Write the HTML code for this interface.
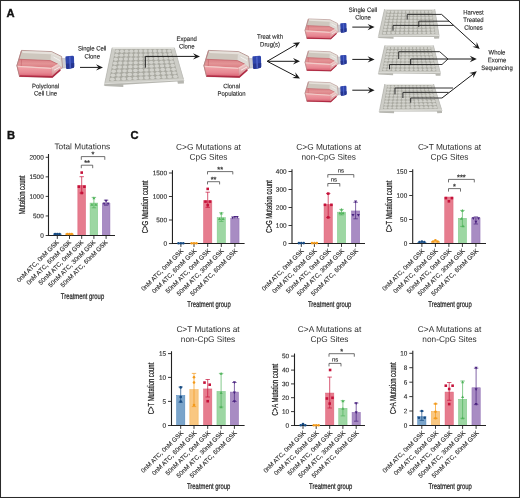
<!DOCTYPE html>
<html lang="en"><head><meta charset="utf-8"><title>Figure</title>
<style>
html,body{margin:0;padding:0;background:#fff;}
body{width:520px;height:498px;overflow:hidden;}
svg{display:block;font-family:"Liberation Sans", Arial, Helvetica, sans-serif;}
</style></head><body>
<svg width="520" height="498" viewBox="0 0 520 498">
<defs>
<filter id="b3" x="-5%" y="-5%" width="110%" height="110%"><feGaussianBlur stdDeviation="0.4"/></filter>
<linearGradient id="liq1" x1="0" y1="0" x2="0" y2="1"><stop offset="0" stop-color="#d97f84"/><stop offset="0.5" stop-color="#e39496"/><stop offset="1" stop-color="#da7a80"/></linearGradient>
<linearGradient id="liq2" x1="0" y1="0" x2="0" y2="1"><stop offset="0" stop-color="#f0a6aa"/><stop offset="0.6" stop-color="#e78792"/><stop offset="1" stop-color="#d65c6e"/></linearGradient>
<linearGradient id="liq3" x1="0" y1="0" x2="0.3" y2="1"><stop offset="0" stop-color="#ead2d0"/><stop offset="0.6" stop-color="#e2a8aa"/><stop offset="1" stop-color="#cf6a76"/></linearGradient>
</defs>
<rect x="0" y="0" width="520" height="498" fill="#fff"/>

<text x="6.6" y="17" font-size="11.2" font-weight="bold" fill="#111" stroke="#111" stroke-width="0.35">A</text>
<g transform="translate(16.00 49.50) scale(1.0000 1.0) translate(-16 -49.5)" filter="url(#b3)"><path d="M61.4 58.2L66.2 58.8L66.4 67.6L62 68.2Z" fill="#cdcdd2" stroke="#a9a9b2" stroke-width="0.5"/><path d="M21.5 50.4L51.6 51.6L61.6 56.5L62.4 67.5L52.3 77.2L19.6 76.5L16.9 65.6Z" fill="#cec7be" stroke="#b08a88" stroke-width="0.8"/><path d="M21.9 50.9L51.4 52.1L61.2 57L61 58.8L50.9 54.2L22.6 53Z" fill="#e6e1db"/><path d="M50.9 54.2L61 58.8L62 67.2L58 64.3L50.5 60.6Z" fill="#dfdbd6"/><path d="M53.5 57L60 60.6" stroke="#f4f2ef" stroke-width="1"/><path d="M19.3 59.3L50.5 60.6L58 64.3L51.5 67.9L17.1 65.8Z" fill="url(#liq1)"/><path d="M19.2 59.3L50.5 60.6L58 64.3" fill="none" stroke="#c4666c" stroke-width="0.8"/><path d="M21.6 59.5L21.2 66" fill="none" stroke="#c4666c" stroke-width="0.6"/><path d="M51.5 68L58 64.5L62.3 67.5L52.3 77.2Z" fill="url(#liq3)"/><path d="M54 70.2L60 67" stroke="#f6e9e8" stroke-width="1"/><path d="M17 66.1L51.5 68.1L52.3 77.2L19.6 76.5Z" fill="url(#liq2)"/><path d="M17 66.4L51.5 68.4L58 64.6" fill="none" stroke="#f3cbc9" stroke-width="1.4"/><path d="M51.5 68.2L52.3 77" fill="none" stroke="#d98a90" stroke-width="0.5"/><path d="M19.2 76L52.3 76.9L60.3 69.8" fill="none" stroke="#b02c44" stroke-width="1.6"/><path d="M21.5 50.6L17 65.6L19.6 76.4" fill="none" stroke="#b57c7e" stroke-width="0.8"/><path d="M66.4 56.3L72.6 55.8Q73.9 55.8 74 57L74.2 66.4Q74.2 67.7 73 67.9L67.4 68.9Q66.3 69 66.2 68L65.4 57.4Q65.4 56.4 66.4 56.3Z" fill="#2f44ac"/><path d="M65.9 63.8L74.2 63L74.2 66.4Q74.2 67.7 73 67.9L67.4 68.9Q66.3 69 66.2 68Z" fill="#253690"/><path d="M69 56.4L70.6 56.3L71 68L69.6 68.3Z" fill="#4c62c8"/></g>
<text transform="translate(45.60 88.20) rotate(0.03) scale(0.93 1)" font-size="6.4" text-anchor="middle" fill="#2e2e2e" stroke="#2e2e2e" stroke-width="0.15">Polyclonal</text>
<text transform="translate(45.60 95.60) rotate(0.03) scale(0.93 1)" font-size="6.4" text-anchor="middle" fill="#2e2e2e" stroke="#2e2e2e" stroke-width="0.15">Cell Line</text>
<text transform="translate(92.20 50.40) rotate(0.03) scale(0.93 1)" font-size="6.4" text-anchor="middle" fill="#2e2e2e" stroke="#2e2e2e" stroke-width="0.15">Single Cell</text>
<text transform="translate(92.20 58.40) rotate(0.03) scale(0.93 1)" font-size="6.4" text-anchor="middle" fill="#2e2e2e" stroke="#2e2e2e" stroke-width="0.15">Clone</text>
<path d="M80.00 67.40L98.80 67.40" fill="none" stroke="#1a1a1a" stroke-width="1.0"/>
<path d="M103.00 67.40L96.00 70.60L98.59 67.40L96.00 64.20Z" fill="#1a1a1a"/>
<g filter="url(#b3)"><path d="M112.1 47.8L174.4 47.8L183.9 81L183.9 83.60L177.90 83.80L177.40 81.60L123.30 84.70L123.30 86.90L104.3 86.10Z" fill="#b6b6b0"/><path d="M112.1 47.8L174.4 47.8L183.9 79.60L104.89999999999999 83.30Z" fill="#cdcdc7"/><path d="M115.25 49.21L171.00 49.08L178.70 78.22L109.02 81.33Z" fill="#a9a9a1"/><path d="M112.6 48.199999999999996L173.9 48.199999999999996" stroke="#efefec" stroke-width="0.9"/><ellipse cx="117.22" cy="51.21" rx="2.03" ry="1.71" fill="#d2d2cc"/><ellipse cx="121.94" cy="51.18" rx="2.03" ry="1.71" fill="#d2d2cc"/><ellipse cx="126.66" cy="51.15" rx="2.03" ry="1.71" fill="#d2d2cc"/><ellipse cx="131.38" cy="51.13" rx="2.03" ry="1.71" fill="#d2d2cc"/><ellipse cx="136.10" cy="51.10" rx="2.03" ry="1.71" fill="#d2d2cc"/><ellipse cx="140.81" cy="51.07" rx="2.03" ry="1.71" fill="#d2d2cc"/><ellipse cx="145.53" cy="51.05" rx="2.03" ry="1.71" fill="#d2d2cc"/><ellipse cx="150.25" cy="51.02" rx="2.03" ry="1.71" fill="#d2d2cc"/><ellipse cx="154.97" cy="50.99" rx="2.03" ry="1.71" fill="#d2d2cc"/><ellipse cx="159.69" cy="50.97" rx="2.03" ry="1.71" fill="#d2d2cc"/><ellipse cx="164.40" cy="50.94" rx="2.03" ry="1.71" fill="#d2d2cc"/><ellipse cx="169.12" cy="50.92" rx="2.03" ry="1.71" fill="#d2d2cc"/><ellipse cx="116.52" cy="55.21" rx="2.09" ry="1.71" fill="#d2d2cc"/><ellipse cx="121.38" cy="55.15" rx="2.09" ry="1.71" fill="#d2d2cc"/><ellipse cx="126.24" cy="55.09" rx="2.09" ry="1.71" fill="#d2d2cc"/><ellipse cx="131.11" cy="55.03" rx="2.09" ry="1.71" fill="#d2d2cc"/><ellipse cx="135.97" cy="54.98" rx="2.09" ry="1.71" fill="#d2d2cc"/><ellipse cx="140.83" cy="54.92" rx="2.09" ry="1.71" fill="#d2d2cc"/><ellipse cx="145.70" cy="54.86" rx="2.09" ry="1.71" fill="#d2d2cc"/><ellipse cx="150.56" cy="54.80" rx="2.09" ry="1.71" fill="#d2d2cc"/><ellipse cx="155.42" cy="54.75" rx="2.09" ry="1.71" fill="#d2d2cc"/><ellipse cx="160.29" cy="54.69" rx="2.09" ry="1.71" fill="#d2d2cc"/><ellipse cx="165.15" cy="54.63" rx="2.09" ry="1.71" fill="#d2d2cc"/><ellipse cx="170.01" cy="54.57" rx="2.09" ry="1.71" fill="#d2d2cc"/><ellipse cx="115.81" cy="59.21" rx="2.15" ry="1.71" fill="#d2d2cc"/><ellipse cx="120.82" cy="59.12" rx="2.15" ry="1.71" fill="#d2d2cc"/><ellipse cx="125.83" cy="59.03" rx="2.15" ry="1.71" fill="#d2d2cc"/><ellipse cx="130.83" cy="58.94" rx="2.15" ry="1.71" fill="#d2d2cc"/><ellipse cx="135.84" cy="58.85" rx="2.15" ry="1.71" fill="#d2d2cc"/><ellipse cx="140.85" cy="58.76" rx="2.15" ry="1.71" fill="#d2d2cc"/><ellipse cx="145.86" cy="58.67" rx="2.15" ry="1.71" fill="#d2d2cc"/><ellipse cx="150.87" cy="58.59" rx="2.15" ry="1.71" fill="#d2d2cc"/><ellipse cx="155.88" cy="58.50" rx="2.15" ry="1.71" fill="#d2d2cc"/><ellipse cx="160.89" cy="58.41" rx="2.15" ry="1.71" fill="#d2d2cc"/><ellipse cx="165.89" cy="58.32" rx="2.15" ry="1.71" fill="#d2d2cc"/><ellipse cx="170.90" cy="58.23" rx="2.15" ry="1.71" fill="#d2d2cc"/><ellipse cx="115.10" cy="63.20" rx="2.22" ry="1.71" fill="#d2d2cc"/><ellipse cx="120.26" cy="63.08" rx="2.22" ry="1.71" fill="#d2d2cc"/><ellipse cx="125.41" cy="62.97" rx="2.22" ry="1.71" fill="#d2d2cc"/><ellipse cx="130.56" cy="62.85" rx="2.22" ry="1.71" fill="#d2d2cc"/><ellipse cx="135.72" cy="62.73" rx="2.22" ry="1.71" fill="#d2d2cc"/><ellipse cx="140.87" cy="62.61" rx="2.22" ry="1.71" fill="#d2d2cc"/><ellipse cx="146.02" cy="62.49" rx="2.22" ry="1.71" fill="#d2d2cc"/><ellipse cx="151.18" cy="62.37" rx="2.22" ry="1.71" fill="#d2d2cc"/><ellipse cx="156.33" cy="62.25" rx="2.22" ry="1.71" fill="#d2d2cc"/><ellipse cx="161.49" cy="62.13" rx="2.22" ry="1.71" fill="#d2d2cc"/><ellipse cx="166.64" cy="62.01" rx="2.22" ry="1.71" fill="#d2d2cc"/><ellipse cx="171.79" cy="61.89" rx="2.22" ry="1.71" fill="#d2d2cc"/><ellipse cx="114.40" cy="67.20" rx="2.28" ry="1.71" fill="#d2d2cc"/><ellipse cx="119.70" cy="67.05" rx="2.28" ry="1.71" fill="#d2d2cc"/><ellipse cx="124.99" cy="66.90" rx="2.28" ry="1.71" fill="#d2d2cc"/><ellipse cx="130.29" cy="66.75" rx="2.28" ry="1.71" fill="#d2d2cc"/><ellipse cx="135.59" cy="66.60" rx="2.28" ry="1.71" fill="#d2d2cc"/><ellipse cx="140.89" cy="66.45" rx="2.28" ry="1.71" fill="#d2d2cc"/><ellipse cx="146.19" cy="66.30" rx="2.28" ry="1.71" fill="#d2d2cc"/><ellipse cx="151.49" cy="66.15" rx="2.28" ry="1.71" fill="#d2d2cc"/><ellipse cx="156.79" cy="66.00" rx="2.28" ry="1.71" fill="#d2d2cc"/><ellipse cx="162.09" cy="65.85" rx="2.28" ry="1.71" fill="#d2d2cc"/><ellipse cx="167.38" cy="65.70" rx="2.28" ry="1.71" fill="#d2d2cc"/><ellipse cx="172.68" cy="65.55" rx="2.28" ry="1.71" fill="#d2d2cc"/><ellipse cx="113.69" cy="71.20" rx="2.34" ry="1.71" fill="#d2d2cc"/><ellipse cx="119.13" cy="71.02" rx="2.34" ry="1.71" fill="#d2d2cc"/><ellipse cx="124.58" cy="70.84" rx="2.34" ry="1.71" fill="#d2d2cc"/><ellipse cx="130.02" cy="70.66" rx="2.34" ry="1.71" fill="#d2d2cc"/><ellipse cx="135.47" cy="70.48" rx="2.34" ry="1.71" fill="#d2d2cc"/><ellipse cx="140.91" cy="70.30" rx="2.34" ry="1.71" fill="#d2d2cc"/><ellipse cx="146.35" cy="70.11" rx="2.34" ry="1.71" fill="#d2d2cc"/><ellipse cx="151.80" cy="69.93" rx="2.34" ry="1.71" fill="#d2d2cc"/><ellipse cx="157.24" cy="69.75" rx="2.34" ry="1.71" fill="#d2d2cc"/><ellipse cx="162.68" cy="69.57" rx="2.34" ry="1.71" fill="#d2d2cc"/><ellipse cx="168.13" cy="69.39" rx="2.34" ry="1.71" fill="#d2d2cc"/><ellipse cx="173.57" cy="69.21" rx="2.34" ry="1.71" fill="#d2d2cc"/><ellipse cx="112.98" cy="75.20" rx="2.40" ry="1.71" fill="#d2d2cc"/><ellipse cx="118.57" cy="74.99" rx="2.40" ry="1.71" fill="#d2d2cc"/><ellipse cx="124.16" cy="74.78" rx="2.40" ry="1.71" fill="#d2d2cc"/><ellipse cx="129.75" cy="74.56" rx="2.40" ry="1.71" fill="#d2d2cc"/><ellipse cx="135.34" cy="74.35" rx="2.40" ry="1.71" fill="#d2d2cc"/><ellipse cx="140.93" cy="74.14" rx="2.40" ry="1.71" fill="#d2d2cc"/><ellipse cx="146.52" cy="73.93" rx="2.40" ry="1.71" fill="#d2d2cc"/><ellipse cx="152.11" cy="73.71" rx="2.40" ry="1.71" fill="#d2d2cc"/><ellipse cx="157.70" cy="73.50" rx="2.40" ry="1.71" fill="#d2d2cc"/><ellipse cx="163.28" cy="73.29" rx="2.40" ry="1.71" fill="#d2d2cc"/><ellipse cx="168.87" cy="73.08" rx="2.40" ry="1.71" fill="#d2d2cc"/><ellipse cx="174.46" cy="72.86" rx="2.40" ry="1.71" fill="#d2d2cc"/><ellipse cx="112.28" cy="79.20" rx="2.47" ry="1.71" fill="#d2d2cc"/><ellipse cx="118.01" cy="78.96" rx="2.47" ry="1.71" fill="#d2d2cc"/><ellipse cx="123.75" cy="78.71" rx="2.47" ry="1.71" fill="#d2d2cc"/><ellipse cx="129.48" cy="78.47" rx="2.47" ry="1.71" fill="#d2d2cc"/><ellipse cx="135.21" cy="78.23" rx="2.47" ry="1.71" fill="#d2d2cc"/><ellipse cx="140.95" cy="77.98" rx="2.47" ry="1.71" fill="#d2d2cc"/><ellipse cx="146.68" cy="77.74" rx="2.47" ry="1.71" fill="#d2d2cc"/><ellipse cx="152.42" cy="77.50" rx="2.47" ry="1.71" fill="#d2d2cc"/><ellipse cx="158.15" cy="77.25" rx="2.47" ry="1.71" fill="#d2d2cc"/><ellipse cx="163.88" cy="77.01" rx="2.47" ry="1.71" fill="#d2d2cc"/><ellipse cx="169.62" cy="76.77" rx="2.47" ry="1.71" fill="#d2d2cc"/><ellipse cx="175.35" cy="76.52" rx="2.47" ry="1.71" fill="#d2d2cc"/><path d="M112.1 47.8L104.3 85.3" stroke="#b4b4af" stroke-width="0.7"/><path d="M174.4 47.8L183.9 81" stroke="#bcbcb7" stroke-width="0.7"/><path d="M104.3 83.70L183.9 79.80" stroke="#eeeeea" stroke-width="0.7"/></g>
<path d="M145.3 67.7V56.4L195.80 56.40" fill="none" stroke="#1a1a1a" stroke-width="1.0"/>
<path d="M200.00 56.40L193.00 59.60L195.59 56.40L193.00 53.20Z" fill="#1a1a1a"/>
<text transform="translate(186.70 41.00) rotate(0.03) scale(0.93 1)" font-size="6.4" text-anchor="middle" fill="#2e2e2e" stroke="#2e2e2e" stroke-width="0.15">Expand</text>
<text transform="translate(186.70 48.60) rotate(0.03) scale(0.93 1)" font-size="6.4" text-anchor="middle" fill="#2e2e2e" stroke="#2e2e2e" stroke-width="0.15">Clone</text>
<g transform="translate(203.00 49.50) scale(1.0000 1.0) translate(-16 -49.5)" filter="url(#b3)"><path d="M61.4 58.2L66.2 58.8L66.4 67.6L62 68.2Z" fill="#cdcdd2" stroke="#a9a9b2" stroke-width="0.5"/><path d="M21.5 50.4L51.6 51.6L61.6 56.5L62.4 67.5L52.3 77.2L19.6 76.5L16.9 65.6Z" fill="#cec7be" stroke="#b08a88" stroke-width="0.8"/><path d="M21.9 50.9L51.4 52.1L61.2 57L61 58.8L50.9 54.2L22.6 53Z" fill="#e6e1db"/><path d="M50.9 54.2L61 58.8L62 67.2L58 64.3L50.5 60.6Z" fill="#dfdbd6"/><path d="M53.5 57L60 60.6" stroke="#f4f2ef" stroke-width="1"/><path d="M19.3 59.3L50.5 60.6L58 64.3L51.5 67.9L17.1 65.8Z" fill="url(#liq1)"/><path d="M19.2 59.3L50.5 60.6L58 64.3" fill="none" stroke="#c4666c" stroke-width="0.8"/><path d="M21.6 59.5L21.2 66" fill="none" stroke="#c4666c" stroke-width="0.6"/><path d="M51.5 68L58 64.5L62.3 67.5L52.3 77.2Z" fill="url(#liq3)"/><path d="M54 70.2L60 67" stroke="#f6e9e8" stroke-width="1"/><path d="M17 66.1L51.5 68.1L52.3 77.2L19.6 76.5Z" fill="url(#liq2)"/><path d="M17 66.4L51.5 68.4L58 64.6" fill="none" stroke="#f3cbc9" stroke-width="1.4"/><path d="M51.5 68.2L52.3 77" fill="none" stroke="#d98a90" stroke-width="0.5"/><path d="M19.2 76L52.3 76.9L60.3 69.8" fill="none" stroke="#b02c44" stroke-width="1.6"/><path d="M21.5 50.6L17 65.6L19.6 76.4" fill="none" stroke="#b57c7e" stroke-width="0.8"/><path d="M66.4 56.3L72.6 55.8Q73.9 55.8 74 57L74.2 66.4Q74.2 67.7 73 67.9L67.4 68.9Q66.3 69 66.2 68L65.4 57.4Q65.4 56.4 66.4 56.3Z" fill="#2f44ac"/><path d="M65.9 63.8L74.2 63L74.2 66.4Q74.2 67.7 73 67.9L67.4 68.9Q66.3 69 66.2 68Z" fill="#253690"/><path d="M69 56.4L70.6 56.3L71 68L69.6 68.3Z" fill="#4c62c8"/></g>
<text transform="translate(231.60 88.30) rotate(0.03) scale(0.93 1)" font-size="6.4" text-anchor="middle" fill="#2e2e2e" stroke="#2e2e2e" stroke-width="0.15">Clonal</text>
<text transform="translate(231.60 95.80) rotate(0.03) scale(0.93 1)" font-size="6.4" text-anchor="middle" fill="#2e2e2e" stroke="#2e2e2e" stroke-width="0.15">Population</text>
<text transform="translate(270.00 38.70) rotate(0.03) scale(0.93 1)" font-size="6.4" text-anchor="middle" fill="#2e2e2e" stroke="#2e2e2e" stroke-width="0.15">Treat with</text>
<text transform="translate(270.00 46.60) rotate(0.03) scale(0.93 1)" font-size="6.4" text-anchor="middle" fill="#2e2e2e" stroke="#2e2e2e" stroke-width="0.15">Drug(s)</text>
<path d="M267.20 61.30L296.37 44.31" fill="none" stroke="#1a1a1a" stroke-width="1.0"/>
<path d="M300.00 42.20L295.56 48.49L296.19 44.42L292.34 42.96Z" fill="#1a1a1a"/>
<path d="M267.20 61.30L295.80 61.30" fill="none" stroke="#1a1a1a" stroke-width="1.0"/>
<path d="M300.00 61.30L293.00 64.50L295.59 61.30L293.00 58.10Z" fill="#1a1a1a"/>
<path d="M267.20 61.30L296.28 76.46" fill="none" stroke="#1a1a1a" stroke-width="1.0"/>
<path d="M300.00 78.40L292.31 78.00L296.09 76.36L295.27 72.33Z" fill="#1a1a1a"/>
<g transform="translate(304.40 18.20) scale(0.7252 0.75) translate(-16 -49.5)" filter="url(#b3)"><path d="M61.4 58.2L66.2 58.8L66.4 67.6L62 68.2Z" fill="#cdcdd2" stroke="#a9a9b2" stroke-width="0.5"/><path d="M21.5 50.4L51.6 51.6L61.6 56.5L62.4 67.5L52.3 77.2L19.6 76.5L16.9 65.6Z" fill="#cec7be" stroke="#b08a88" stroke-width="0.8"/><path d="M21.9 50.9L51.4 52.1L61.2 57L61 58.8L50.9 54.2L22.6 53Z" fill="#e6e1db"/><path d="M50.9 54.2L61 58.8L62 67.2L58 64.3L50.5 60.6Z" fill="#dfdbd6"/><path d="M53.5 57L60 60.6" stroke="#f4f2ef" stroke-width="1"/><path d="M19.3 59.3L50.5 60.6L58 64.3L51.5 67.9L17.1 65.8Z" fill="url(#liq1)"/><path d="M19.2 59.3L50.5 60.6L58 64.3" fill="none" stroke="#c4666c" stroke-width="0.8"/><path d="M21.6 59.5L21.2 66" fill="none" stroke="#c4666c" stroke-width="0.6"/><path d="M51.5 68L58 64.5L62.3 67.5L52.3 77.2Z" fill="url(#liq3)"/><path d="M54 70.2L60 67" stroke="#f6e9e8" stroke-width="1"/><path d="M17 66.1L51.5 68.1L52.3 77.2L19.6 76.5Z" fill="url(#liq2)"/><path d="M17 66.4L51.5 68.4L58 64.6" fill="none" stroke="#f3cbc9" stroke-width="1.4"/><path d="M51.5 68.2L52.3 77" fill="none" stroke="#d98a90" stroke-width="0.5"/><path d="M19.2 76L52.3 76.9L60.3 69.8" fill="none" stroke="#b02c44" stroke-width="1.6"/><path d="M21.5 50.6L17 65.6L19.6 76.4" fill="none" stroke="#b57c7e" stroke-width="0.8"/><path d="M66.4 56.3L72.6 55.8Q73.9 55.8 74 57L74.2 66.4Q74.2 67.7 73 67.9L67.4 68.9Q66.3 69 66.2 68L65.4 57.4Q65.4 56.4 66.4 56.3Z" fill="#2f44ac"/><path d="M65.9 63.8L74.2 63L74.2 66.4Q74.2 67.7 73 67.9L67.4 68.9Q66.3 69 66.2 68Z" fill="#253690"/><path d="M69 56.4L70.6 56.3L71 68L69.6 68.3Z" fill="#4c62c8"/></g>
<g transform="translate(304.40 50.20) scale(0.7252 0.75) translate(-16 -49.5)" filter="url(#b3)"><path d="M61.4 58.2L66.2 58.8L66.4 67.6L62 68.2Z" fill="#cdcdd2" stroke="#a9a9b2" stroke-width="0.5"/><path d="M21.5 50.4L51.6 51.6L61.6 56.5L62.4 67.5L52.3 77.2L19.6 76.5L16.9 65.6Z" fill="#cec7be" stroke="#b08a88" stroke-width="0.8"/><path d="M21.9 50.9L51.4 52.1L61.2 57L61 58.8L50.9 54.2L22.6 53Z" fill="#e6e1db"/><path d="M50.9 54.2L61 58.8L62 67.2L58 64.3L50.5 60.6Z" fill="#dfdbd6"/><path d="M53.5 57L60 60.6" stroke="#f4f2ef" stroke-width="1"/><path d="M19.3 59.3L50.5 60.6L58 64.3L51.5 67.9L17.1 65.8Z" fill="url(#liq1)"/><path d="M19.2 59.3L50.5 60.6L58 64.3" fill="none" stroke="#c4666c" stroke-width="0.8"/><path d="M21.6 59.5L21.2 66" fill="none" stroke="#c4666c" stroke-width="0.6"/><path d="M51.5 68L58 64.5L62.3 67.5L52.3 77.2Z" fill="url(#liq3)"/><path d="M54 70.2L60 67" stroke="#f6e9e8" stroke-width="1"/><path d="M17 66.1L51.5 68.1L52.3 77.2L19.6 76.5Z" fill="url(#liq2)"/><path d="M17 66.4L51.5 68.4L58 64.6" fill="none" stroke="#f3cbc9" stroke-width="1.4"/><path d="M51.5 68.2L52.3 77" fill="none" stroke="#d98a90" stroke-width="0.5"/><path d="M19.2 76L52.3 76.9L60.3 69.8" fill="none" stroke="#b02c44" stroke-width="1.6"/><path d="M21.5 50.6L17 65.6L19.6 76.4" fill="none" stroke="#b57c7e" stroke-width="0.8"/><path d="M66.4 56.3L72.6 55.8Q73.9 55.8 74 57L74.2 66.4Q74.2 67.7 73 67.9L67.4 68.9Q66.3 69 66.2 68L65.4 57.4Q65.4 56.4 66.4 56.3Z" fill="#2f44ac"/><path d="M65.9 63.8L74.2 63L74.2 66.4Q74.2 67.7 73 67.9L67.4 68.9Q66.3 69 66.2 68Z" fill="#253690"/><path d="M69 56.4L70.6 56.3L71 68L69.6 68.3Z" fill="#4c62c8"/></g>
<g transform="translate(304.40 81.10) scale(0.7252 0.75) translate(-16 -49.5)" filter="url(#b3)"><path d="M61.4 58.2L66.2 58.8L66.4 67.6L62 68.2Z" fill="#cdcdd2" stroke="#a9a9b2" stroke-width="0.5"/><path d="M21.5 50.4L51.6 51.6L61.6 56.5L62.4 67.5L52.3 77.2L19.6 76.5L16.9 65.6Z" fill="#cec7be" stroke="#b08a88" stroke-width="0.8"/><path d="M21.9 50.9L51.4 52.1L61.2 57L61 58.8L50.9 54.2L22.6 53Z" fill="#e6e1db"/><path d="M50.9 54.2L61 58.8L62 67.2L58 64.3L50.5 60.6Z" fill="#dfdbd6"/><path d="M53.5 57L60 60.6" stroke="#f4f2ef" stroke-width="1"/><path d="M19.3 59.3L50.5 60.6L58 64.3L51.5 67.9L17.1 65.8Z" fill="url(#liq1)"/><path d="M19.2 59.3L50.5 60.6L58 64.3" fill="none" stroke="#c4666c" stroke-width="0.8"/><path d="M21.6 59.5L21.2 66" fill="none" stroke="#c4666c" stroke-width="0.6"/><path d="M51.5 68L58 64.5L62.3 67.5L52.3 77.2Z" fill="url(#liq3)"/><path d="M54 70.2L60 67" stroke="#f6e9e8" stroke-width="1"/><path d="M17 66.1L51.5 68.1L52.3 77.2L19.6 76.5Z" fill="url(#liq2)"/><path d="M17 66.4L51.5 68.4L58 64.6" fill="none" stroke="#f3cbc9" stroke-width="1.4"/><path d="M51.5 68.2L52.3 77" fill="none" stroke="#d98a90" stroke-width="0.5"/><path d="M19.2 76L52.3 76.9L60.3 69.8" fill="none" stroke="#b02c44" stroke-width="1.6"/><path d="M21.5 50.6L17 65.6L19.6 76.4" fill="none" stroke="#b57c7e" stroke-width="0.8"/><path d="M66.4 56.3L72.6 55.8Q73.9 55.8 74 57L74.2 66.4Q74.2 67.7 73 67.9L67.4 68.9Q66.3 69 66.2 68L65.4 57.4Q65.4 56.4 66.4 56.3Z" fill="#2f44ac"/><path d="M65.9 63.8L74.2 63L74.2 66.4Q74.2 67.7 73 67.9L67.4 68.9Q66.3 69 66.2 68Z" fill="#253690"/><path d="M69 56.4L70.6 56.3L71 68L69.6 68.3Z" fill="#4c62c8"/></g>
<path d="M352.30 27.10L370.40 27.10" fill="none" stroke="#1a1a1a" stroke-width="1.0"/>
<path d="M374.60 27.10L367.60 30.30L370.19 27.10L367.60 23.90Z" fill="#1a1a1a"/>
<path d="M352.30 59.40L370.40 59.40" fill="none" stroke="#1a1a1a" stroke-width="1.0"/>
<path d="M374.60 59.40L367.60 62.60L370.19 59.40L367.60 56.20Z" fill="#1a1a1a"/>
<path d="M352.30 90.20L370.40 90.20" fill="none" stroke="#1a1a1a" stroke-width="1.0"/>
<path d="M374.60 90.20L367.60 93.40L370.19 90.20L367.60 87.00Z" fill="#1a1a1a"/>
<text transform="translate(363.00 12.00) rotate(0.03) scale(0.93 1)" font-size="6.4" text-anchor="middle" fill="#2e2e2e" stroke="#2e2e2e" stroke-width="0.15">Single Cell</text>
<text transform="translate(363.00 19.50) rotate(0.03) scale(0.93 1)" font-size="6.4" text-anchor="middle" fill="#2e2e2e" stroke="#2e2e2e" stroke-width="0.15">Clone</text>
<g filter="url(#b3)"><path d="M384.5 9.2L434.8 9.2L439.2 36.5L439.2 38.60L434.36 38.76L433.95 36.98L393.54 36.92L393.54 38.69L378.2 38.05Z" fill="#b6b6b0"/><path d="M384.5 9.2L434.8 9.2L439.2 35.37L378.8 35.79Z" fill="#cdcdc7"/><path d="M387.04 10.26L431.93 10.25L435.35 34.08L381.84 34.43Z" fill="#a9a9a1"/><path d="M385.0 9.6L434.3 9.6" stroke="#efefec" stroke-width="0.9"/><ellipse cx="388.61" cy="11.77" rx="1.63" ry="1.28" fill="#d2d2cc"/><ellipse cx="392.39" cy="11.77" rx="1.63" ry="1.28" fill="#d2d2cc"/><ellipse cx="396.18" cy="11.77" rx="1.63" ry="1.28" fill="#d2d2cc"/><ellipse cx="399.96" cy="11.76" rx="1.63" ry="1.28" fill="#d2d2cc"/><ellipse cx="403.75" cy="11.76" rx="1.63" ry="1.28" fill="#d2d2cc"/><ellipse cx="407.54" cy="11.76" rx="1.63" ry="1.28" fill="#d2d2cc"/><ellipse cx="411.32" cy="11.75" rx="1.63" ry="1.28" fill="#d2d2cc"/><ellipse cx="415.11" cy="11.75" rx="1.63" ry="1.28" fill="#d2d2cc"/><ellipse cx="418.89" cy="11.75" rx="1.63" ry="1.28" fill="#d2d2cc"/><ellipse cx="422.68" cy="11.75" rx="1.63" ry="1.28" fill="#d2d2cc"/><ellipse cx="426.47" cy="11.74" rx="1.63" ry="1.28" fill="#d2d2cc"/><ellipse cx="430.25" cy="11.74" rx="1.63" ry="1.28" fill="#d2d2cc"/><ellipse cx="388.00" cy="14.79" rx="1.67" ry="1.28" fill="#d2d2cc"/><ellipse cx="391.88" cy="14.79" rx="1.67" ry="1.28" fill="#d2d2cc"/><ellipse cx="395.75" cy="14.78" rx="1.67" ry="1.28" fill="#d2d2cc"/><ellipse cx="399.63" cy="14.77" rx="1.67" ry="1.28" fill="#d2d2cc"/><ellipse cx="403.50" cy="14.77" rx="1.67" ry="1.28" fill="#d2d2cc"/><ellipse cx="407.38" cy="14.76" rx="1.67" ry="1.28" fill="#d2d2cc"/><ellipse cx="411.26" cy="14.75" rx="1.67" ry="1.28" fill="#d2d2cc"/><ellipse cx="415.13" cy="14.75" rx="1.67" ry="1.28" fill="#d2d2cc"/><ellipse cx="419.01" cy="14.74" rx="1.67" ry="1.28" fill="#d2d2cc"/><ellipse cx="422.88" cy="14.73" rx="1.67" ry="1.28" fill="#d2d2cc"/><ellipse cx="426.76" cy="14.73" rx="1.67" ry="1.28" fill="#d2d2cc"/><ellipse cx="430.64" cy="14.72" rx="1.67" ry="1.28" fill="#d2d2cc"/><ellipse cx="387.40" cy="17.81" rx="1.71" ry="1.28" fill="#d2d2cc"/><ellipse cx="391.36" cy="17.80" rx="1.71" ry="1.28" fill="#d2d2cc"/><ellipse cx="395.33" cy="17.79" rx="1.71" ry="1.28" fill="#d2d2cc"/><ellipse cx="399.29" cy="17.78" rx="1.71" ry="1.28" fill="#d2d2cc"/><ellipse cx="403.26" cy="17.77" rx="1.71" ry="1.28" fill="#d2d2cc"/><ellipse cx="407.22" cy="17.76" rx="1.71" ry="1.28" fill="#d2d2cc"/><ellipse cx="411.19" cy="17.75" rx="1.71" ry="1.28" fill="#d2d2cc"/><ellipse cx="415.16" cy="17.74" rx="1.71" ry="1.28" fill="#d2d2cc"/><ellipse cx="419.12" cy="17.73" rx="1.71" ry="1.28" fill="#d2d2cc"/><ellipse cx="423.09" cy="17.72" rx="1.71" ry="1.28" fill="#d2d2cc"/><ellipse cx="427.05" cy="17.71" rx="1.71" ry="1.28" fill="#d2d2cc"/><ellipse cx="431.02" cy="17.70" rx="1.71" ry="1.28" fill="#d2d2cc"/><ellipse cx="386.79" cy="20.83" rx="1.74" ry="1.28" fill="#d2d2cc"/><ellipse cx="390.85" cy="20.82" rx="1.74" ry="1.28" fill="#d2d2cc"/><ellipse cx="394.90" cy="20.80" rx="1.74" ry="1.28" fill="#d2d2cc"/><ellipse cx="398.96" cy="20.79" rx="1.74" ry="1.28" fill="#d2d2cc"/><ellipse cx="403.01" cy="20.78" rx="1.74" ry="1.28" fill="#d2d2cc"/><ellipse cx="407.07" cy="20.76" rx="1.74" ry="1.28" fill="#d2d2cc"/><ellipse cx="411.12" cy="20.75" rx="1.74" ry="1.28" fill="#d2d2cc"/><ellipse cx="415.18" cy="20.74" rx="1.74" ry="1.28" fill="#d2d2cc"/><ellipse cx="419.23" cy="20.72" rx="1.74" ry="1.28" fill="#d2d2cc"/><ellipse cx="423.29" cy="20.71" rx="1.74" ry="1.28" fill="#d2d2cc"/><ellipse cx="427.35" cy="20.70" rx="1.74" ry="1.28" fill="#d2d2cc"/><ellipse cx="431.40" cy="20.68" rx="1.74" ry="1.28" fill="#d2d2cc"/><ellipse cx="386.19" cy="23.85" rx="1.78" ry="1.28" fill="#d2d2cc"/><ellipse cx="390.33" cy="23.83" rx="1.78" ry="1.28" fill="#d2d2cc"/><ellipse cx="394.48" cy="23.82" rx="1.78" ry="1.28" fill="#d2d2cc"/><ellipse cx="398.62" cy="23.80" rx="1.78" ry="1.28" fill="#d2d2cc"/><ellipse cx="402.77" cy="23.78" rx="1.78" ry="1.28" fill="#d2d2cc"/><ellipse cx="406.91" cy="23.77" rx="1.78" ry="1.28" fill="#d2d2cc"/><ellipse cx="411.06" cy="23.75" rx="1.78" ry="1.28" fill="#d2d2cc"/><ellipse cx="415.20" cy="23.73" rx="1.78" ry="1.28" fill="#d2d2cc"/><ellipse cx="419.35" cy="23.72" rx="1.78" ry="1.28" fill="#d2d2cc"/><ellipse cx="423.49" cy="23.70" rx="1.78" ry="1.28" fill="#d2d2cc"/><ellipse cx="427.64" cy="23.68" rx="1.78" ry="1.28" fill="#d2d2cc"/><ellipse cx="431.78" cy="23.66" rx="1.78" ry="1.28" fill="#d2d2cc"/><ellipse cx="385.58" cy="26.87" rx="1.82" ry="1.28" fill="#d2d2cc"/><ellipse cx="389.82" cy="26.85" rx="1.82" ry="1.28" fill="#d2d2cc"/><ellipse cx="394.05" cy="26.83" rx="1.82" ry="1.28" fill="#d2d2cc"/><ellipse cx="398.29" cy="26.81" rx="1.82" ry="1.28" fill="#d2d2cc"/><ellipse cx="402.52" cy="26.79" rx="1.82" ry="1.28" fill="#d2d2cc"/><ellipse cx="406.76" cy="26.77" rx="1.82" ry="1.28" fill="#d2d2cc"/><ellipse cx="410.99" cy="26.75" rx="1.82" ry="1.28" fill="#d2d2cc"/><ellipse cx="415.23" cy="26.73" rx="1.82" ry="1.28" fill="#d2d2cc"/><ellipse cx="419.46" cy="26.71" rx="1.82" ry="1.28" fill="#d2d2cc"/><ellipse cx="423.70" cy="26.69" rx="1.82" ry="1.28" fill="#d2d2cc"/><ellipse cx="427.93" cy="26.67" rx="1.82" ry="1.28" fill="#d2d2cc"/><ellipse cx="432.17" cy="26.65" rx="1.82" ry="1.28" fill="#d2d2cc"/><ellipse cx="384.98" cy="29.89" rx="1.86" ry="1.28" fill="#d2d2cc"/><ellipse cx="389.30" cy="29.87" rx="1.86" ry="1.28" fill="#d2d2cc"/><ellipse cx="393.63" cy="29.84" rx="1.86" ry="1.28" fill="#d2d2cc"/><ellipse cx="397.95" cy="29.82" rx="1.86" ry="1.28" fill="#d2d2cc"/><ellipse cx="402.28" cy="29.79" rx="1.86" ry="1.28" fill="#d2d2cc"/><ellipse cx="406.60" cy="29.77" rx="1.86" ry="1.28" fill="#d2d2cc"/><ellipse cx="410.93" cy="29.75" rx="1.86" ry="1.28" fill="#d2d2cc"/><ellipse cx="415.25" cy="29.72" rx="1.86" ry="1.28" fill="#d2d2cc"/><ellipse cx="419.57" cy="29.70" rx="1.86" ry="1.28" fill="#d2d2cc"/><ellipse cx="423.90" cy="29.68" rx="1.86" ry="1.28" fill="#d2d2cc"/><ellipse cx="428.22" cy="29.65" rx="1.86" ry="1.28" fill="#d2d2cc"/><ellipse cx="432.55" cy="29.63" rx="1.86" ry="1.28" fill="#d2d2cc"/><ellipse cx="384.37" cy="32.91" rx="1.90" ry="1.28" fill="#d2d2cc"/><ellipse cx="388.79" cy="32.88" rx="1.90" ry="1.28" fill="#d2d2cc"/><ellipse cx="393.20" cy="32.86" rx="1.90" ry="1.28" fill="#d2d2cc"/><ellipse cx="397.62" cy="32.83" rx="1.90" ry="1.28" fill="#d2d2cc"/><ellipse cx="402.03" cy="32.80" rx="1.90" ry="1.28" fill="#d2d2cc"/><ellipse cx="406.44" cy="32.77" rx="1.90" ry="1.28" fill="#d2d2cc"/><ellipse cx="410.86" cy="32.75" rx="1.90" ry="1.28" fill="#d2d2cc"/><ellipse cx="415.27" cy="32.72" rx="1.90" ry="1.28" fill="#d2d2cc"/><ellipse cx="419.69" cy="32.69" rx="1.90" ry="1.28" fill="#d2d2cc"/><ellipse cx="424.10" cy="32.66" rx="1.90" ry="1.28" fill="#d2d2cc"/><ellipse cx="428.52" cy="32.64" rx="1.90" ry="1.28" fill="#d2d2cc"/><ellipse cx="432.93" cy="32.61" rx="1.90" ry="1.28" fill="#d2d2cc"/><path d="M384.5 9.2L378.2 37.4" stroke="#b4b4af" stroke-width="0.7"/><path d="M434.8 9.2L439.2 36.5" stroke="#bcbcb7" stroke-width="0.7"/><path d="M378.2 36.11L439.2 35.53" stroke="#eeeeea" stroke-width="0.7"/></g>
<g filter="url(#b3)"><path d="M384.8 45.5L433.4 45.5L440.5 73.6L440.5 75.63L435.82 75.78L435.43 74.07L393.12 73.53L393.12 75.25L378.3 74.62Z" fill="#b6b6b0"/><path d="M384.8 45.5L433.4 45.5L440.5 72.51L378.90000000000003 72.44Z" fill="#cdcdc7"/><path d="M387.24 46.58L430.74 46.58L436.45 71.15L382.01 71.10Z" fill="#a9a9a1"/><path d="M385.3 45.9L432.9 45.9" stroke="#efefec" stroke-width="0.9"/><ellipse cx="388.76" cy="48.11" rx="1.58" ry="1.30" fill="#d2d2cc"/><ellipse cx="392.44" cy="48.11" rx="1.58" ry="1.30" fill="#d2d2cc"/><ellipse cx="396.12" cy="48.11" rx="1.58" ry="1.30" fill="#d2d2cc"/><ellipse cx="399.80" cy="48.11" rx="1.58" ry="1.30" fill="#d2d2cc"/><ellipse cx="403.48" cy="48.11" rx="1.58" ry="1.30" fill="#d2d2cc"/><ellipse cx="407.16" cy="48.11" rx="1.58" ry="1.30" fill="#d2d2cc"/><ellipse cx="410.84" cy="48.11" rx="1.58" ry="1.30" fill="#d2d2cc"/><ellipse cx="414.53" cy="48.11" rx="1.58" ry="1.30" fill="#d2d2cc"/><ellipse cx="418.21" cy="48.11" rx="1.58" ry="1.30" fill="#d2d2cc"/><ellipse cx="421.89" cy="48.11" rx="1.58" ry="1.30" fill="#d2d2cc"/><ellipse cx="425.57" cy="48.12" rx="1.58" ry="1.30" fill="#d2d2cc"/><ellipse cx="429.25" cy="48.12" rx="1.58" ry="1.30" fill="#d2d2cc"/><ellipse cx="388.16" cy="51.18" rx="1.63" ry="1.30" fill="#d2d2cc"/><ellipse cx="391.95" cy="51.18" rx="1.63" ry="1.30" fill="#d2d2cc"/><ellipse cx="395.75" cy="51.18" rx="1.63" ry="1.30" fill="#d2d2cc"/><ellipse cx="399.55" cy="51.18" rx="1.63" ry="1.30" fill="#d2d2cc"/><ellipse cx="403.34" cy="51.18" rx="1.63" ry="1.30" fill="#d2d2cc"/><ellipse cx="407.14" cy="51.18" rx="1.63" ry="1.30" fill="#d2d2cc"/><ellipse cx="410.93" cy="51.18" rx="1.63" ry="1.30" fill="#d2d2cc"/><ellipse cx="414.73" cy="51.18" rx="1.63" ry="1.30" fill="#d2d2cc"/><ellipse cx="418.52" cy="51.18" rx="1.63" ry="1.30" fill="#d2d2cc"/><ellipse cx="422.32" cy="51.19" rx="1.63" ry="1.30" fill="#d2d2cc"/><ellipse cx="426.11" cy="51.19" rx="1.63" ry="1.30" fill="#d2d2cc"/><ellipse cx="429.91" cy="51.19" rx="1.63" ry="1.30" fill="#d2d2cc"/><ellipse cx="387.56" cy="54.24" rx="1.68" ry="1.30" fill="#d2d2cc"/><ellipse cx="391.47" cy="54.24" rx="1.68" ry="1.30" fill="#d2d2cc"/><ellipse cx="395.38" cy="54.24" rx="1.68" ry="1.30" fill="#d2d2cc"/><ellipse cx="399.29" cy="54.25" rx="1.68" ry="1.30" fill="#d2d2cc"/><ellipse cx="403.20" cy="54.25" rx="1.68" ry="1.30" fill="#d2d2cc"/><ellipse cx="407.11" cy="54.25" rx="1.68" ry="1.30" fill="#d2d2cc"/><ellipse cx="411.02" cy="54.25" rx="1.68" ry="1.30" fill="#d2d2cc"/><ellipse cx="414.93" cy="54.25" rx="1.68" ry="1.30" fill="#d2d2cc"/><ellipse cx="418.84" cy="54.25" rx="1.68" ry="1.30" fill="#d2d2cc"/><ellipse cx="422.75" cy="54.26" rx="1.68" ry="1.30" fill="#d2d2cc"/><ellipse cx="426.66" cy="54.26" rx="1.68" ry="1.30" fill="#d2d2cc"/><ellipse cx="430.57" cy="54.26" rx="1.68" ry="1.30" fill="#d2d2cc"/><ellipse cx="386.96" cy="57.31" rx="1.73" ry="1.30" fill="#d2d2cc"/><ellipse cx="390.99" cy="57.31" rx="1.73" ry="1.30" fill="#d2d2cc"/><ellipse cx="395.01" cy="57.31" rx="1.73" ry="1.30" fill="#d2d2cc"/><ellipse cx="399.04" cy="57.31" rx="1.73" ry="1.30" fill="#d2d2cc"/><ellipse cx="403.06" cy="57.31" rx="1.73" ry="1.30" fill="#d2d2cc"/><ellipse cx="407.08" cy="57.32" rx="1.73" ry="1.30" fill="#d2d2cc"/><ellipse cx="411.11" cy="57.32" rx="1.73" ry="1.30" fill="#d2d2cc"/><ellipse cx="415.13" cy="57.32" rx="1.73" ry="1.30" fill="#d2d2cc"/><ellipse cx="419.15" cy="57.32" rx="1.73" ry="1.30" fill="#d2d2cc"/><ellipse cx="423.18" cy="57.33" rx="1.73" ry="1.30" fill="#d2d2cc"/><ellipse cx="427.20" cy="57.33" rx="1.73" ry="1.30" fill="#d2d2cc"/><ellipse cx="431.23" cy="57.33" rx="1.73" ry="1.30" fill="#d2d2cc"/><ellipse cx="386.37" cy="60.37" rx="1.78" ry="1.30" fill="#d2d2cc"/><ellipse cx="390.51" cy="60.37" rx="1.78" ry="1.30" fill="#d2d2cc"/><ellipse cx="394.64" cy="60.38" rx="1.78" ry="1.30" fill="#d2d2cc"/><ellipse cx="398.78" cy="60.38" rx="1.78" ry="1.30" fill="#d2d2cc"/><ellipse cx="402.92" cy="60.38" rx="1.78" ry="1.30" fill="#d2d2cc"/><ellipse cx="407.06" cy="60.38" rx="1.78" ry="1.30" fill="#d2d2cc"/><ellipse cx="411.19" cy="60.39" rx="1.78" ry="1.30" fill="#d2d2cc"/><ellipse cx="415.33" cy="60.39" rx="1.78" ry="1.30" fill="#d2d2cc"/><ellipse cx="419.47" cy="60.39" rx="1.78" ry="1.30" fill="#d2d2cc"/><ellipse cx="423.61" cy="60.40" rx="1.78" ry="1.30" fill="#d2d2cc"/><ellipse cx="427.75" cy="60.40" rx="1.78" ry="1.30" fill="#d2d2cc"/><ellipse cx="431.88" cy="60.40" rx="1.78" ry="1.30" fill="#d2d2cc"/><ellipse cx="385.77" cy="63.44" rx="1.83" ry="1.30" fill="#d2d2cc"/><ellipse cx="390.02" cy="63.44" rx="1.83" ry="1.30" fill="#d2d2cc"/><ellipse cx="394.27" cy="63.44" rx="1.83" ry="1.30" fill="#d2d2cc"/><ellipse cx="398.53" cy="63.45" rx="1.83" ry="1.30" fill="#d2d2cc"/><ellipse cx="402.78" cy="63.45" rx="1.83" ry="1.30" fill="#d2d2cc"/><ellipse cx="407.03" cy="63.45" rx="1.83" ry="1.30" fill="#d2d2cc"/><ellipse cx="411.28" cy="63.46" rx="1.83" ry="1.30" fill="#d2d2cc"/><ellipse cx="415.53" cy="63.46" rx="1.83" ry="1.30" fill="#d2d2cc"/><ellipse cx="419.79" cy="63.46" rx="1.83" ry="1.30" fill="#d2d2cc"/><ellipse cx="424.04" cy="63.47" rx="1.83" ry="1.30" fill="#d2d2cc"/><ellipse cx="428.29" cy="63.47" rx="1.83" ry="1.30" fill="#d2d2cc"/><ellipse cx="432.54" cy="63.47" rx="1.83" ry="1.30" fill="#d2d2cc"/><ellipse cx="385.17" cy="66.50" rx="1.88" ry="1.30" fill="#d2d2cc"/><ellipse cx="389.54" cy="66.50" rx="1.88" ry="1.30" fill="#d2d2cc"/><ellipse cx="393.90" cy="66.51" rx="1.88" ry="1.30" fill="#d2d2cc"/><ellipse cx="398.27" cy="66.51" rx="1.88" ry="1.30" fill="#d2d2cc"/><ellipse cx="402.64" cy="66.52" rx="1.88" ry="1.30" fill="#d2d2cc"/><ellipse cx="407.00" cy="66.52" rx="1.88" ry="1.30" fill="#d2d2cc"/><ellipse cx="411.37" cy="66.52" rx="1.88" ry="1.30" fill="#d2d2cc"/><ellipse cx="415.73" cy="66.53" rx="1.88" ry="1.30" fill="#d2d2cc"/><ellipse cx="420.10" cy="66.53" rx="1.88" ry="1.30" fill="#d2d2cc"/><ellipse cx="424.47" cy="66.54" rx="1.88" ry="1.30" fill="#d2d2cc"/><ellipse cx="428.83" cy="66.54" rx="1.88" ry="1.30" fill="#d2d2cc"/><ellipse cx="433.20" cy="66.54" rx="1.88" ry="1.30" fill="#d2d2cc"/><ellipse cx="384.58" cy="69.57" rx="1.93" ry="1.30" fill="#d2d2cc"/><ellipse cx="389.06" cy="69.57" rx="1.93" ry="1.30" fill="#d2d2cc"/><ellipse cx="393.54" cy="69.58" rx="1.93" ry="1.30" fill="#d2d2cc"/><ellipse cx="398.02" cy="69.58" rx="1.93" ry="1.30" fill="#d2d2cc"/><ellipse cx="402.50" cy="69.58" rx="1.93" ry="1.30" fill="#d2d2cc"/><ellipse cx="406.98" cy="69.59" rx="1.93" ry="1.30" fill="#d2d2cc"/><ellipse cx="411.46" cy="69.59" rx="1.93" ry="1.30" fill="#d2d2cc"/><ellipse cx="415.94" cy="69.60" rx="1.93" ry="1.30" fill="#d2d2cc"/><ellipse cx="420.42" cy="69.60" rx="1.93" ry="1.30" fill="#d2d2cc"/><ellipse cx="424.90" cy="69.61" rx="1.93" ry="1.30" fill="#d2d2cc"/><ellipse cx="429.38" cy="69.61" rx="1.93" ry="1.30" fill="#d2d2cc"/><ellipse cx="433.86" cy="69.62" rx="1.93" ry="1.30" fill="#d2d2cc"/><path d="M384.8 45.5L378.3 74" stroke="#b4b4af" stroke-width="0.7"/><path d="M433.4 45.5L440.5 73.6" stroke="#bcbcb7" stroke-width="0.7"/><path d="M378.3 72.75L440.5 72.66" stroke="#eeeeea" stroke-width="0.7"/></g>
<g filter="url(#b3)"><path d="M384.8 84L433.6 84L442 111L442 113.04L437.30 113.19L436.91 111.47L394.08 111.53L394.08 113.25L379.2 112.63Z" fill="#b6b6b0"/><path d="M384.8 84L433.6 84L442 109.90L379.8 110.43Z" fill="#cdcdc7"/><path d="M387.29 85.06L430.97 85.04L437.85 108.64L382.90 109.08Z" fill="#a9a9a1"/><path d="M385.3 84.4L433.1 84.4" stroke="#efefec" stroke-width="0.9"/><ellipse cx="388.87" cy="86.56" rx="1.59" ry="1.27" fill="#d2d2cc"/><ellipse cx="392.56" cy="86.55" rx="1.59" ry="1.27" fill="#d2d2cc"/><ellipse cx="396.26" cy="86.55" rx="1.59" ry="1.27" fill="#d2d2cc"/><ellipse cx="399.96" cy="86.54" rx="1.59" ry="1.27" fill="#d2d2cc"/><ellipse cx="403.66" cy="86.54" rx="1.59" ry="1.27" fill="#d2d2cc"/><ellipse cx="407.36" cy="86.54" rx="1.59" ry="1.27" fill="#d2d2cc"/><ellipse cx="411.06" cy="86.53" rx="1.59" ry="1.27" fill="#d2d2cc"/><ellipse cx="414.76" cy="86.53" rx="1.59" ry="1.27" fill="#d2d2cc"/><ellipse cx="418.46" cy="86.53" rx="1.59" ry="1.27" fill="#d2d2cc"/><ellipse cx="422.16" cy="86.52" rx="1.59" ry="1.27" fill="#d2d2cc"/><ellipse cx="425.86" cy="86.52" rx="1.59" ry="1.27" fill="#d2d2cc"/><ellipse cx="429.55" cy="86.51" rx="1.59" ry="1.27" fill="#d2d2cc"/><ellipse cx="388.37" cy="89.56" rx="1.64" ry="1.27" fill="#d2d2cc"/><ellipse cx="392.19" cy="89.55" rx="1.64" ry="1.27" fill="#d2d2cc"/><ellipse cx="396.01" cy="89.54" rx="1.64" ry="1.27" fill="#d2d2cc"/><ellipse cx="399.82" cy="89.53" rx="1.64" ry="1.27" fill="#d2d2cc"/><ellipse cx="403.64" cy="89.52" rx="1.64" ry="1.27" fill="#d2d2cc"/><ellipse cx="407.46" cy="89.52" rx="1.64" ry="1.27" fill="#d2d2cc"/><ellipse cx="411.27" cy="89.51" rx="1.64" ry="1.27" fill="#d2d2cc"/><ellipse cx="415.09" cy="89.50" rx="1.64" ry="1.27" fill="#d2d2cc"/><ellipse cx="418.91" cy="89.49" rx="1.64" ry="1.27" fill="#d2d2cc"/><ellipse cx="422.72" cy="89.48" rx="1.64" ry="1.27" fill="#d2d2cc"/><ellipse cx="426.54" cy="89.47" rx="1.64" ry="1.27" fill="#d2d2cc"/><ellipse cx="430.36" cy="89.47" rx="1.64" ry="1.27" fill="#d2d2cc"/><ellipse cx="387.88" cy="92.56" rx="1.69" ry="1.27" fill="#d2d2cc"/><ellipse cx="391.82" cy="92.55" rx="1.69" ry="1.27" fill="#d2d2cc"/><ellipse cx="395.75" cy="92.53" rx="1.69" ry="1.27" fill="#d2d2cc"/><ellipse cx="399.69" cy="92.52" rx="1.69" ry="1.27" fill="#d2d2cc"/><ellipse cx="403.62" cy="92.51" rx="1.69" ry="1.27" fill="#d2d2cc"/><ellipse cx="407.55" cy="92.50" rx="1.69" ry="1.27" fill="#d2d2cc"/><ellipse cx="411.49" cy="92.48" rx="1.69" ry="1.27" fill="#d2d2cc"/><ellipse cx="415.42" cy="92.47" rx="1.69" ry="1.27" fill="#d2d2cc"/><ellipse cx="419.36" cy="92.46" rx="1.69" ry="1.27" fill="#d2d2cc"/><ellipse cx="423.29" cy="92.44" rx="1.69" ry="1.27" fill="#d2d2cc"/><ellipse cx="427.22" cy="92.43" rx="1.69" ry="1.27" fill="#d2d2cc"/><ellipse cx="431.16" cy="92.42" rx="1.69" ry="1.27" fill="#d2d2cc"/><ellipse cx="387.39" cy="95.56" rx="1.74" ry="1.27" fill="#d2d2cc"/><ellipse cx="391.44" cy="95.54" rx="1.74" ry="1.27" fill="#d2d2cc"/><ellipse cx="395.50" cy="95.53" rx="1.74" ry="1.27" fill="#d2d2cc"/><ellipse cx="399.55" cy="95.51" rx="1.74" ry="1.27" fill="#d2d2cc"/><ellipse cx="403.60" cy="95.49" rx="1.74" ry="1.27" fill="#d2d2cc"/><ellipse cx="407.65" cy="95.47" rx="1.74" ry="1.27" fill="#d2d2cc"/><ellipse cx="411.70" cy="95.46" rx="1.74" ry="1.27" fill="#d2d2cc"/><ellipse cx="415.75" cy="95.44" rx="1.74" ry="1.27" fill="#d2d2cc"/><ellipse cx="419.80" cy="95.42" rx="1.74" ry="1.27" fill="#d2d2cc"/><ellipse cx="423.86" cy="95.41" rx="1.74" ry="1.27" fill="#d2d2cc"/><ellipse cx="427.91" cy="95.39" rx="1.74" ry="1.27" fill="#d2d2cc"/><ellipse cx="431.96" cy="95.37" rx="1.74" ry="1.27" fill="#d2d2cc"/><ellipse cx="386.90" cy="98.56" rx="1.79" ry="1.27" fill="#d2d2cc"/><ellipse cx="391.07" cy="98.54" rx="1.79" ry="1.27" fill="#d2d2cc"/><ellipse cx="395.24" cy="98.52" rx="1.79" ry="1.27" fill="#d2d2cc"/><ellipse cx="399.41" cy="98.50" rx="1.79" ry="1.27" fill="#d2d2cc"/><ellipse cx="403.58" cy="98.47" rx="1.79" ry="1.27" fill="#d2d2cc"/><ellipse cx="407.75" cy="98.45" rx="1.79" ry="1.27" fill="#d2d2cc"/><ellipse cx="411.92" cy="98.43" rx="1.79" ry="1.27" fill="#d2d2cc"/><ellipse cx="416.08" cy="98.41" rx="1.79" ry="1.27" fill="#d2d2cc"/><ellipse cx="420.25" cy="98.39" rx="1.79" ry="1.27" fill="#d2d2cc"/><ellipse cx="424.42" cy="98.37" rx="1.79" ry="1.27" fill="#d2d2cc"/><ellipse cx="428.59" cy="98.35" rx="1.79" ry="1.27" fill="#d2d2cc"/><ellipse cx="432.76" cy="98.32" rx="1.79" ry="1.27" fill="#d2d2cc"/><ellipse cx="386.41" cy="101.56" rx="1.84" ry="1.27" fill="#d2d2cc"/><ellipse cx="390.70" cy="101.54" rx="1.84" ry="1.27" fill="#d2d2cc"/><ellipse cx="394.98" cy="101.51" rx="1.84" ry="1.27" fill="#d2d2cc"/><ellipse cx="399.27" cy="101.48" rx="1.84" ry="1.27" fill="#d2d2cc"/><ellipse cx="403.56" cy="101.46" rx="1.84" ry="1.27" fill="#d2d2cc"/><ellipse cx="407.84" cy="101.43" rx="1.84" ry="1.27" fill="#d2d2cc"/><ellipse cx="412.13" cy="101.41" rx="1.84" ry="1.27" fill="#d2d2cc"/><ellipse cx="416.42" cy="101.38" rx="1.84" ry="1.27" fill="#d2d2cc"/><ellipse cx="420.70" cy="101.35" rx="1.84" ry="1.27" fill="#d2d2cc"/><ellipse cx="424.99" cy="101.33" rx="1.84" ry="1.27" fill="#d2d2cc"/><ellipse cx="429.27" cy="101.30" rx="1.84" ry="1.27" fill="#d2d2cc"/><ellipse cx="433.56" cy="101.28" rx="1.84" ry="1.27" fill="#d2d2cc"/><ellipse cx="385.92" cy="104.56" rx="1.89" ry="1.27" fill="#d2d2cc"/><ellipse cx="390.33" cy="104.53" rx="1.89" ry="1.27" fill="#d2d2cc"/><ellipse cx="394.73" cy="104.50" rx="1.89" ry="1.27" fill="#d2d2cc"/><ellipse cx="399.13" cy="104.47" rx="1.89" ry="1.27" fill="#d2d2cc"/><ellipse cx="403.54" cy="104.44" rx="1.89" ry="1.27" fill="#d2d2cc"/><ellipse cx="407.94" cy="104.41" rx="1.89" ry="1.27" fill="#d2d2cc"/><ellipse cx="412.34" cy="104.38" rx="1.89" ry="1.27" fill="#d2d2cc"/><ellipse cx="416.75" cy="104.35" rx="1.89" ry="1.27" fill="#d2d2cc"/><ellipse cx="421.15" cy="104.32" rx="1.89" ry="1.27" fill="#d2d2cc"/><ellipse cx="425.55" cy="104.29" rx="1.89" ry="1.27" fill="#d2d2cc"/><ellipse cx="429.96" cy="104.26" rx="1.89" ry="1.27" fill="#d2d2cc"/><ellipse cx="434.36" cy="104.23" rx="1.89" ry="1.27" fill="#d2d2cc"/><ellipse cx="385.43" cy="107.56" rx="1.94" ry="1.27" fill="#d2d2cc"/><ellipse cx="389.95" cy="107.53" rx="1.94" ry="1.27" fill="#d2d2cc"/><ellipse cx="394.47" cy="107.50" rx="1.94" ry="1.27" fill="#d2d2cc"/><ellipse cx="398.99" cy="107.46" rx="1.94" ry="1.27" fill="#d2d2cc"/><ellipse cx="403.52" cy="107.43" rx="1.94" ry="1.27" fill="#d2d2cc"/><ellipse cx="408.04" cy="107.39" rx="1.94" ry="1.27" fill="#d2d2cc"/><ellipse cx="412.56" cy="107.36" rx="1.94" ry="1.27" fill="#d2d2cc"/><ellipse cx="417.08" cy="107.32" rx="1.94" ry="1.27" fill="#d2d2cc"/><ellipse cx="421.60" cy="107.29" rx="1.94" ry="1.27" fill="#d2d2cc"/><ellipse cx="426.12" cy="107.25" rx="1.94" ry="1.27" fill="#d2d2cc"/><ellipse cx="430.64" cy="107.22" rx="1.94" ry="1.27" fill="#d2d2cc"/><ellipse cx="435.16" cy="107.18" rx="1.94" ry="1.27" fill="#d2d2cc"/><path d="M384.8 84L379.2 112" stroke="#b4b4af" stroke-width="0.7"/><path d="M433.6 84L442 111" stroke="#bcbcb7" stroke-width="0.7"/><path d="M379.2 110.75L442 110.06" stroke="#eeeeea" stroke-width="0.7"/></g>
<path d="M407.2 19.5V14.4H441.6M418.8 27.1V21.2H449M393 30.7V25.4H453.6" fill="none" stroke="#1e1e1e" stroke-width="0.9"/>
<path d="M441.60 14.40L476.59 46.27" fill="none" stroke="#1a1a1a" stroke-width="1.0"/>
<path d="M479.70 49.10L472.37 46.75L476.44 46.13L476.68 42.02Z" fill="#1a1a1a"/>
<path d="M398.7 59V51.7H439.7L448 59M389.5 69.3V64.5H442L448 59" fill="none" stroke="#1e1e1e" stroke-width="0.9"/>
<path d="M410.7 65.1V59L472.60 59.00" fill="none" stroke="#1a1a1a" stroke-width="1.0"/>
<path d="M476.80 59.00L469.80 62.20L472.39 59.00L469.80 55.80Z" fill="#1a1a1a"/>
<path d="M395 94.4V88H453M402.9 98V92.4H448.5M410.7 102.7V98H442" fill="none" stroke="#1e1e1e" stroke-width="0.9"/>
<path d="M442.00 98.00L473.47 73.76" fill="none" stroke="#1a1a1a" stroke-width="1.0"/>
<path d="M476.80 71.20L473.21 78.01L473.31 73.89L469.30 72.94Z" fill="#1a1a1a"/>
<text transform="translate(473.50 14.50) rotate(0.03) scale(0.93 1)" font-size="6.4" text-anchor="middle" fill="#2e2e2e" stroke="#2e2e2e" stroke-width="0.15">Harvest</text>
<text transform="translate(473.50 22.10) rotate(0.03) scale(0.93 1)" font-size="6.4" text-anchor="middle" fill="#2e2e2e" stroke="#2e2e2e" stroke-width="0.15">Treated</text>
<text transform="translate(473.50 29.70) rotate(0.03) scale(0.93 1)" font-size="6.4" text-anchor="middle" fill="#2e2e2e" stroke="#2e2e2e" stroke-width="0.15">Clones</text>
<text transform="translate(497.00 54.60) rotate(0.03) scale(0.93 1)" font-size="6.4" text-anchor="middle" fill="#2e2e2e" stroke="#2e2e2e" stroke-width="0.15">Whole</text>
<text transform="translate(497.00 62.30) rotate(0.03) scale(0.93 1)" font-size="6.4" text-anchor="middle" fill="#2e2e2e" stroke="#2e2e2e" stroke-width="0.15">Exome</text>
<text transform="translate(497.00 70.00) rotate(0.03) scale(0.93 1)" font-size="6.4" text-anchor="middle" fill="#2e2e2e" stroke="#2e2e2e" stroke-width="0.15">Sequencing</text>
<text x="6.9" y="139.2" font-size="11.2" font-weight="bold" fill="#111" stroke="#111" stroke-width="0.35">B</text>
<g><text transform="translate(82.30 149.30) rotate(0.03)" font-size="8.3" text-anchor="middle" fill="#2e2e2e">Total Mutations</text><rect x="53.45" y="233.85" width="7.70" height="1.65" fill="#7aa4ca" stroke="#5088bd" stroke-width="0.5"/><rect x="65.65" y="233.85" width="7.70" height="1.65" fill="#f9c781" stroke="#f4ae4c" stroke-width="0.5"/><rect x="77.85" y="185.45" width="7.70" height="50.05" fill="#e67c8e" stroke="#dc5f76" stroke-width="0.5"/><rect x="90.05" y="203.05" width="7.70" height="32.45" fill="#9dd7a3" stroke="#7fcb88" stroke-width="0.5"/><rect x="102.25" y="203.55" width="7.70" height="31.95" fill="#a88cc3" stroke="#9170b4" stroke-width="0.5"/><path d="M48.50 154.00V235.50M47.95 235.50H115.00" fill="none" stroke="#222" stroke-width="1.1"/><path d="M45.70 235.50H48.50" stroke="#222" stroke-width="0.9"/><text transform="translate(43.70 237.75) rotate(0.03)" font-size="6.4" text-anchor="end" fill="#2a2a2a" stroke="#2a2a2a" stroke-width="0.12">0</text><path d="M45.70 215.95H48.50" stroke="#222" stroke-width="0.9"/><text transform="translate(43.70 218.20) rotate(0.03)" font-size="6.4" text-anchor="end" fill="#2a2a2a" stroke="#2a2a2a" stroke-width="0.12">500</text><path d="M45.70 196.40H48.50" stroke="#222" stroke-width="0.9"/><text transform="translate(43.70 198.65) rotate(0.03)" font-size="6.4" text-anchor="end" fill="#2a2a2a" stroke="#2a2a2a" stroke-width="0.12">1000</text><path d="M45.70 176.85H48.50" stroke="#222" stroke-width="0.9"/><text transform="translate(43.70 179.10) rotate(0.03)" font-size="6.4" text-anchor="end" fill="#2a2a2a" stroke="#2a2a2a" stroke-width="0.12">1500</text><path d="M45.70 157.30H48.50" stroke="#222" stroke-width="0.9"/><text transform="translate(43.70 159.55) rotate(0.03)" font-size="6.4" text-anchor="end" fill="#2a2a2a" stroke="#2a2a2a" stroke-width="0.12">2000</text><path d="M57.30 235.50v3.4" stroke="#222" stroke-width="0.9"/><path d="M69.50 235.50v3.4" stroke="#222" stroke-width="0.9"/><path d="M81.70 235.50v3.4" stroke="#222" stroke-width="0.9"/><path d="M93.90 235.50v3.4" stroke="#222" stroke-width="0.9"/><path d="M106.10 235.50v3.4" stroke="#222" stroke-width="0.9"/><circle cx="55.10" cy="234.00" r="1.30" fill="#164a82"/><circle cx="57.30" cy="234.00" r="1.30" fill="#164a82"/><circle cx="59.50" cy="234.00" r="1.30" fill="#164a82"/><circle cx="67.30" cy="234.00" r="1.30" fill="#f39a1a"/><circle cx="69.50" cy="234.00" r="1.30" fill="#f39a1a"/><circle cx="71.70" cy="234.00" r="1.30" fill="#f39a1a"/><path d="M81.70 176.70V193.00M79.50 176.70h4.4M79.50 193.00h4.4" stroke="#c5123a" stroke-width="0.7" fill="none"/><rect x="80.40" y="171.30" width="2.60" height="2.60" fill="#c5123a"/><rect x="77.60" y="185.40" width="2.60" height="2.60" fill="#c5123a"/><rect x="83.10" y="185.40" width="2.60" height="2.60" fill="#c5123a"/><rect x="80.40" y="191.70" width="2.60" height="2.60" fill="#c5123a"/><path d="M93.90 197.40V207.80M91.70 197.40h4.4M91.70 207.80h4.4" stroke="#4fb35a" stroke-width="0.7" fill="none"/><path d="M92.41 199.30L95.40 199.30L93.90 196.57Z" fill="#4fb35a"/><path d="M90.41 205.70L93.40 205.70L91.90 202.97Z" fill="#4fb35a"/><path d="M94.41 205.70L97.40 205.70L95.90 202.97Z" fill="#4fb35a"/><path d="M106.10 200.20V205.20M103.90 200.20h4.4M103.90 205.20h4.4" stroke="#4a2380" stroke-width="0.7" fill="none"/><path d="M104.60 199.70L107.59 199.70L106.10 202.43Z" fill="#4a2380"/><path d="M102.60 202.50L105.59 202.50L104.10 205.23Z" fill="#4a2380"/><path d="M106.60 202.50L109.59 202.50L108.10 205.23Z" fill="#4a2380"/><path d="M81.30 159.80V156.60H104.80V159.80" fill="none" stroke="#333" stroke-width="0.7"/><text transform="translate(93.05 156.70) rotate(0.03)" font-size="7.4" text-anchor="middle" fill="#2a2a2a" stroke="#2a2a2a" stroke-width="0.2">*</text><path d="M81.30 168.20V165.20H92.70V168.20" fill="none" stroke="#333" stroke-width="0.7"/><text transform="translate(87.00 165.30) rotate(0.03)" font-size="7.4" text-anchor="middle" fill="#2a2a2a" stroke="#2a2a2a" stroke-width="0.2">**</text><text transform="translate(24.80 194.85) rotate(-90) scale(0.72 1)" font-size="8.2" text-anchor="middle" fill="#262626" stroke="#262626" stroke-width="0.25">Mutation count</text><text transform="translate(59.20 242.80) rotate(-45)" font-size="6.3" text-anchor="end" fill="#2a2a2a" stroke="#2a2a2a" stroke-width="0.12">0nM ATC, 0nM GSK</text><text transform="translate(71.40 242.80) rotate(-45)" font-size="6.3" text-anchor="end" fill="#2a2a2a" stroke="#2a2a2a" stroke-width="0.12">0nM ATC, 60nM GSK</text><text transform="translate(83.60 242.80) rotate(-45)" font-size="6.3" text-anchor="end" fill="#2a2a2a" stroke="#2a2a2a" stroke-width="0.12">50nM ATC, 0nM GSK</text><text transform="translate(95.80 242.80) rotate(-45)" font-size="6.3" text-anchor="end" fill="#2a2a2a" stroke="#2a2a2a" stroke-width="0.12">50nM ATC, 30nM GSK</text><text transform="translate(108.00 242.80) rotate(-45)" font-size="6.3" text-anchor="end" fill="#2a2a2a" stroke="#2a2a2a" stroke-width="0.12">50nM ATC, 60nM GSK</text><text transform="translate(82.50 298.80) rotate(0.03) scale(0.72 1)" font-size="8.2" text-anchor="middle" fill="#262626" stroke="#262626" stroke-width="0.25">Treatment group</text></g>
<text x="130.6" y="139.4" font-size="11.2" font-weight="bold" fill="#111" stroke="#111" stroke-width="0.35">C</text>
<g><text transform="translate(208.50 149.80) rotate(0.03)" font-size="8.3" text-anchor="middle" fill="#2e2e2e">C&gt;G Mutations at</text><text transform="translate(208.50 159.70) rotate(0.03)" font-size="8.3" text-anchor="middle" fill="#2e2e2e">CpG Sites</text><rect x="203.55" y="200.75" width="8.30" height="42.80" fill="#e67c8e" stroke="#dc5f76" stroke-width="0.5"/><rect x="217.15" y="217.65" width="8.30" height="25.90" fill="#9dd7a3" stroke="#7fcb88" stroke-width="0.5"/><rect x="230.75" y="218.15" width="8.30" height="25.40" fill="#a88cc3" stroke="#9170b4" stroke-width="0.5"/><path d="M172.45 170.20V243.55M171.90 243.55H244.60" fill="none" stroke="#222" stroke-width="1.1"/><path d="M168.95 243.55H172.45" stroke="#222" stroke-width="0.9"/><text transform="translate(166.95 245.80) rotate(0.03)" font-size="6.4" text-anchor="end" fill="#2a2a2a" stroke="#2a2a2a" stroke-width="0.12">0</text><path d="M168.95 220.00H172.45" stroke="#222" stroke-width="0.9"/><text transform="translate(166.95 222.25) rotate(0.03)" font-size="6.4" text-anchor="end" fill="#2a2a2a" stroke="#2a2a2a" stroke-width="0.12">500</text><path d="M168.95 196.50H172.45" stroke="#222" stroke-width="0.9"/><text transform="translate(166.95 198.75) rotate(0.03)" font-size="6.4" text-anchor="end" fill="#2a2a2a" stroke="#2a2a2a" stroke-width="0.12">1000</text><path d="M168.95 173.00H172.45" stroke="#222" stroke-width="0.9"/><text transform="translate(166.95 175.25) rotate(0.03)" font-size="6.4" text-anchor="end" fill="#2a2a2a" stroke="#2a2a2a" stroke-width="0.12">1500</text><path d="M180.90 243.55v3.4" stroke="#222" stroke-width="0.9"/><path d="M194.00 243.55v3.4" stroke="#222" stroke-width="0.9"/><path d="M207.70 243.55v3.4" stroke="#222" stroke-width="0.9"/><path d="M221.30 243.55v3.4" stroke="#222" stroke-width="0.9"/><path d="M234.90 243.55v3.4" stroke="#222" stroke-width="0.9"/><circle cx="178.50" cy="243.30" r="1.30" fill="#164a82"/><circle cx="180.90" cy="243.30" r="1.30" fill="#164a82"/><circle cx="183.30" cy="243.30" r="1.30" fill="#164a82"/><circle cx="191.60" cy="243.30" r="1.30" fill="#f39a1a"/><circle cx="194.00" cy="243.30" r="1.30" fill="#f39a1a"/><circle cx="196.40" cy="243.30" r="1.30" fill="#f39a1a"/><path d="M207.70 192.20V207.40M205.50 192.20h4.4M205.50 207.40h4.4" stroke="#c5123a" stroke-width="0.7" fill="none"/><rect x="206.40" y="187.60" width="2.60" height="2.60" fill="#c5123a"/><rect x="204.20" y="200.30" width="2.60" height="2.60" fill="#c5123a"/><rect x="208.70" y="200.30" width="2.60" height="2.60" fill="#c5123a"/><rect x="206.40" y="203.90" width="2.60" height="2.60" fill="#c5123a"/><path d="M221.30 212.80V221.40M219.10 212.80h4.4M219.10 221.40h4.4" stroke="#4fb35a" stroke-width="0.7" fill="none"/><path d="M219.81 214.50L222.80 214.50L221.30 211.77Z" fill="#4fb35a"/><path d="M218.00 219.90L221.00 219.90L219.50 217.17Z" fill="#4fb35a"/><path d="M221.61 219.90L224.60 219.90L223.10 217.17Z" fill="#4fb35a"/><path d="M231.21 216.50L234.20 216.50L232.70 219.23Z" fill="#4a2380"/><path d="M233.41 216.00L236.40 216.00L234.90 218.73Z" fill="#4a2380"/><path d="M235.71 216.00L238.70 216.00L237.20 218.73Z" fill="#4a2380"/><path d="M207.50 174.40V171.60H232.80V174.40" fill="none" stroke="#333" stroke-width="0.7"/><text transform="translate(220.15 171.90) rotate(0.03)" font-size="7.4" text-anchor="middle" fill="#2a2a2a" stroke="#2a2a2a" stroke-width="0.2">**</text><path d="M207.50 184.40V181.70H219.60V184.40" fill="none" stroke="#333" stroke-width="0.7"/><text transform="translate(213.55 182.10) rotate(0.03)" font-size="7.4" text-anchor="middle" fill="#2a2a2a" stroke="#2a2a2a" stroke-width="0.2">**</text><text transform="translate(148.00 206.97) rotate(-90) scale(0.72 1)" font-size="8.2" text-anchor="middle" fill="#262626" stroke="#262626" stroke-width="0.25">C&gt;G Mutation count</text><text transform="translate(183.80 251.35) rotate(-45)" font-size="6.3" text-anchor="end" fill="#2a2a2a" stroke="#2a2a2a" stroke-width="0.12">0nM ATC, 0nM GSK</text><text transform="translate(196.90 251.35) rotate(-45)" font-size="6.3" text-anchor="end" fill="#2a2a2a" stroke="#2a2a2a" stroke-width="0.12">0nM ATC, 60nM GSK</text><text transform="translate(210.60 251.35) rotate(-45)" font-size="6.3" text-anchor="end" fill="#2a2a2a" stroke="#2a2a2a" stroke-width="0.12">50nM ATC, 0nM GSK</text><text transform="translate(224.20 251.35) rotate(-45)" font-size="6.3" text-anchor="end" fill="#2a2a2a" stroke="#2a2a2a" stroke-width="0.12">50nM ATC, 30nM GSK</text><text transform="translate(237.80 251.35) rotate(-45)" font-size="6.3" text-anchor="end" fill="#2a2a2a" stroke="#2a2a2a" stroke-width="0.12">50nM ATC, 60nM GSK</text><text transform="translate(209.00 307.35) rotate(0.03) scale(0.72 1)" font-size="8.2" text-anchor="middle" fill="#262626" stroke="#262626" stroke-width="0.25">Treatment group</text></g>
<g><text transform="translate(328.70 149.80) rotate(0.03)" font-size="8.3" text-anchor="middle" fill="#2e2e2e">C&gt;G Mutations at</text><text transform="translate(328.70 159.70) rotate(0.03)" font-size="8.3" text-anchor="middle" fill="#2e2e2e">non-CpG Sites</text><rect x="324.05" y="204.45" width="8.30" height="39.05" fill="#e67c8e" stroke="#dc5f76" stroke-width="0.5"/><rect x="337.35" y="212.15" width="8.30" height="31.35" fill="#9dd7a3" stroke="#7fcb88" stroke-width="0.5"/><rect x="351.45" y="210.95" width="8.30" height="32.55" fill="#a88cc3" stroke="#9170b4" stroke-width="0.5"/><path d="M292.00 169.20V243.50M291.45 243.50H365.00" fill="none" stroke="#222" stroke-width="1.1"/><path d="M288.50 243.50H292.00" stroke="#222" stroke-width="0.9"/><text transform="translate(286.50 245.75) rotate(0.03)" font-size="6.4" text-anchor="end" fill="#2a2a2a" stroke="#2a2a2a" stroke-width="0.12">0</text><path d="M288.50 225.50H292.00" stroke="#222" stroke-width="0.9"/><text transform="translate(286.50 227.75) rotate(0.03)" font-size="6.4" text-anchor="end" fill="#2a2a2a" stroke="#2a2a2a" stroke-width="0.12">100</text><path d="M288.50 207.50H292.00" stroke="#222" stroke-width="0.9"/><text transform="translate(286.50 209.75) rotate(0.03)" font-size="6.4" text-anchor="end" fill="#2a2a2a" stroke="#2a2a2a" stroke-width="0.12">200</text><path d="M288.50 189.50H292.00" stroke="#222" stroke-width="0.9"/><text transform="translate(286.50 191.75) rotate(0.03)" font-size="6.4" text-anchor="end" fill="#2a2a2a" stroke="#2a2a2a" stroke-width="0.12">300</text><path d="M288.50 171.50H292.00" stroke="#222" stroke-width="0.9"/><text transform="translate(286.50 173.75) rotate(0.03)" font-size="6.4" text-anchor="end" fill="#2a2a2a" stroke="#2a2a2a" stroke-width="0.12">400</text><path d="M301.30 243.50v3.4" stroke="#222" stroke-width="0.9"/><path d="M314.40 243.50v3.4" stroke="#222" stroke-width="0.9"/><path d="M328.20 243.50v3.4" stroke="#222" stroke-width="0.9"/><path d="M341.50 243.50v3.4" stroke="#222" stroke-width="0.9"/><path d="M355.60 243.50v3.4" stroke="#222" stroke-width="0.9"/><circle cx="298.90" cy="243.10" r="1.30" fill="#164a82"/><circle cx="301.30" cy="243.10" r="1.30" fill="#164a82"/><circle cx="303.70" cy="243.10" r="1.30" fill="#164a82"/><circle cx="312.00" cy="243.10" r="1.30" fill="#f39a1a"/><circle cx="314.40" cy="243.10" r="1.30" fill="#f39a1a"/><circle cx="316.80" cy="243.10" r="1.30" fill="#f39a1a"/><path d="M328.20 193.50V217.50M326.00 193.50h4.4M326.00 217.50h4.4" stroke="#c5123a" stroke-width="0.7" fill="none"/><rect x="326.90" y="192.30" width="2.60" height="2.60" fill="#c5123a"/><rect x="323.70" y="203.50" width="2.60" height="2.60" fill="#c5123a"/><rect x="330.10" y="203.50" width="2.60" height="2.60" fill="#c5123a"/><rect x="326.90" y="216.10" width="2.60" height="2.60" fill="#c5123a"/><path d="M341.50 209.40V214.90M339.30 209.40h4.4M339.30 214.90h4.4" stroke="#4fb35a" stroke-width="0.7" fill="none"/><path d="M340.00 210.80L343.00 210.80L341.50 208.07Z" fill="#4fb35a"/><path d="M338.40 214.30L341.39 214.30L339.90 211.57Z" fill="#4fb35a"/><path d="M341.61 214.30L344.60 214.30L343.10 211.57Z" fill="#4fb35a"/><path d="M355.60 202.30V218.80M353.40 202.30h4.4M353.40 218.80h4.4" stroke="#4a2380" stroke-width="0.7" fill="none"/><path d="M354.10 200.50L357.09 200.50L355.60 203.23Z" fill="#4a2380"/><path d="M351.50 214.00L354.49 214.00L353.00 216.73Z" fill="#4a2380"/><path d="M356.90 214.00L359.89 214.00L358.40 216.73Z" fill="#4a2380"/><path d="M327.80 177.60V174.60H353.80V177.60" fill="none" stroke="#333" stroke-width="0.7"/><text transform="translate(340.80 172.60) rotate(0.03)" font-size="5.9" text-anchor="middle" fill="#2a2a2a" stroke="#2a2a2a" stroke-width="0.12">ns</text><path d="M327.80 186.50V183.50H339.80V186.50" fill="none" stroke="#333" stroke-width="0.7"/><text transform="translate(333.80 181.60) rotate(0.03)" font-size="5.9" text-anchor="middle" fill="#2a2a2a" stroke="#2a2a2a" stroke-width="0.12">ns</text><text transform="translate(271.80 206.45) rotate(-90) scale(0.72 1)" font-size="8.2" text-anchor="middle" fill="#262626" stroke="#262626" stroke-width="0.25">C&gt;G Mutation count</text><text transform="translate(304.20 251.30) rotate(-45)" font-size="6.3" text-anchor="end" fill="#2a2a2a" stroke="#2a2a2a" stroke-width="0.12">0nM ATC, 0nM GSK</text><text transform="translate(317.30 251.30) rotate(-45)" font-size="6.3" text-anchor="end" fill="#2a2a2a" stroke="#2a2a2a" stroke-width="0.12">0nM ATC, 60nM GSK</text><text transform="translate(331.10 251.30) rotate(-45)" font-size="6.3" text-anchor="end" fill="#2a2a2a" stroke="#2a2a2a" stroke-width="0.12">50nM ATC, 0nM GSK</text><text transform="translate(344.40 251.30) rotate(-45)" font-size="6.3" text-anchor="end" fill="#2a2a2a" stroke="#2a2a2a" stroke-width="0.12">50nM ATC, 30nM GSK</text><text transform="translate(358.50 251.30) rotate(-45)" font-size="6.3" text-anchor="end" fill="#2a2a2a" stroke="#2a2a2a" stroke-width="0.12">50nM ATC, 60nM GSK</text><text transform="translate(329.55 307.30) rotate(0.03) scale(0.72 1)" font-size="8.2" text-anchor="middle" fill="#262626" stroke="#262626" stroke-width="0.25">Treatment group</text></g>
<g><text transform="translate(449.50 149.80) rotate(0.03)" font-size="8.3" text-anchor="middle" fill="#2e2e2e">C&gt;T Mutations at</text><text transform="translate(449.50 159.70) rotate(0.03)" font-size="8.3" text-anchor="middle" fill="#2e2e2e">CpG Sites</text><rect x="417.75" y="242.25" width="8.30" height="1.25" fill="#7aa4ca" stroke="#5088bd" stroke-width="0.5"/><rect x="431.25" y="241.55" width="8.30" height="1.95" fill="#f9c781" stroke="#f4ae4c" stroke-width="0.5"/><rect x="444.75" y="197.05" width="8.30" height="46.45" fill="#e67c8e" stroke="#dc5f76" stroke-width="0.5"/><rect x="458.25" y="218.25" width="8.30" height="25.25" fill="#9dd7a3" stroke="#7fcb88" stroke-width="0.5"/><rect x="471.75" y="217.85" width="8.30" height="25.65" fill="#a88cc3" stroke="#9170b4" stroke-width="0.5"/><path d="M412.70 169.20V243.50M412.15 243.50H486.00" fill="none" stroke="#222" stroke-width="1.1"/><path d="M409.20 243.50H412.70" stroke="#222" stroke-width="0.9"/><text transform="translate(407.20 245.75) rotate(0.03)" font-size="6.4" text-anchor="end" fill="#2a2a2a" stroke="#2a2a2a" stroke-width="0.12">0</text><path d="M409.20 219.50H412.70" stroke="#222" stroke-width="0.9"/><text transform="translate(407.20 221.75) rotate(0.03)" font-size="6.4" text-anchor="end" fill="#2a2a2a" stroke="#2a2a2a" stroke-width="0.12">50</text><path d="M409.20 195.50H412.70" stroke="#222" stroke-width="0.9"/><text transform="translate(407.20 197.75) rotate(0.03)" font-size="6.4" text-anchor="end" fill="#2a2a2a" stroke="#2a2a2a" stroke-width="0.12">100</text><path d="M409.20 171.50H412.70" stroke="#222" stroke-width="0.9"/><text transform="translate(407.20 173.75) rotate(0.03)" font-size="6.4" text-anchor="end" fill="#2a2a2a" stroke="#2a2a2a" stroke-width="0.12">150</text><path d="M421.90 243.50v3.4" stroke="#222" stroke-width="0.9"/><path d="M435.40 243.50v3.4" stroke="#222" stroke-width="0.9"/><path d="M448.90 243.50v3.4" stroke="#222" stroke-width="0.9"/><path d="M462.40 243.50v3.4" stroke="#222" stroke-width="0.9"/><path d="M475.90 243.50v3.4" stroke="#222" stroke-width="0.9"/><circle cx="419.50" cy="242.00" r="1.30" fill="#164a82"/><circle cx="421.90" cy="241.60" r="1.30" fill="#164a82"/><circle cx="424.30" cy="242.00" r="1.30" fill="#164a82"/><circle cx="433.20" cy="241.50" r="1.30" fill="#f39a1a"/><circle cx="435.40" cy="240.20" r="1.30" fill="#f39a1a"/><circle cx="437.60" cy="241.50" r="1.30" fill="#f39a1a"/><rect x="444.60" y="196.80" width="2.60" height="2.60" fill="#c5123a"/><rect x="450.60" y="196.80" width="2.60" height="2.60" fill="#c5123a"/><rect x="447.60" y="200.00" width="2.60" height="2.60" fill="#c5123a"/><path d="M462.40 210.40V226.40M460.20 210.40h4.4M460.20 226.40h4.4" stroke="#4fb35a" stroke-width="0.7" fill="none"/><path d="M460.90 211.80L463.89 211.80L462.40 209.07Z" fill="#4fb35a"/><path d="M459.90 219.80L462.89 219.80L461.40 217.07Z" fill="#4fb35a"/><path d="M461.50 227.30L464.50 227.30L463.00 224.57Z" fill="#4fb35a"/><path d="M475.90 216.90V224.00M473.70 216.90h4.4M473.70 224.00h4.4" stroke="#4a2380" stroke-width="0.7" fill="none"/><path d="M471.80 217.30L474.79 217.30L473.30 220.03Z" fill="#4a2380"/><path d="M477.00 217.30L480.00 217.30L478.50 220.03Z" fill="#4a2380"/><path d="M474.40 220.70L477.39 220.70L475.90 223.43Z" fill="#4a2380"/><path d="M448.50 182.40V179.40H474.30V182.40" fill="none" stroke="#333" stroke-width="0.7"/><text transform="translate(461.40 179.70) rotate(0.03)" font-size="7.4" text-anchor="middle" fill="#2a2a2a" stroke="#2a2a2a" stroke-width="0.2">***</text><path d="M448.50 191.60V188.60H460.50V191.60" fill="none" stroke="#333" stroke-width="0.7"/><text transform="translate(454.50 189.10) rotate(0.03)" font-size="7.4" text-anchor="middle" fill="#2a2a2a" stroke="#2a2a2a" stroke-width="0.2">*</text><text transform="translate(391.70 206.45) rotate(-90) scale(0.72 1)" font-size="8.2" text-anchor="middle" fill="#262626" stroke="#262626" stroke-width="0.25">C&gt;T Mutation count</text><text transform="translate(424.80 251.30) rotate(-45)" font-size="6.3" text-anchor="end" fill="#2a2a2a" stroke="#2a2a2a" stroke-width="0.12">0nM ATC, 0nM GSK</text><text transform="translate(438.30 251.30) rotate(-45)" font-size="6.3" text-anchor="end" fill="#2a2a2a" stroke="#2a2a2a" stroke-width="0.12">0nM ATC, 60nM GSK</text><text transform="translate(451.80 251.30) rotate(-45)" font-size="6.3" text-anchor="end" fill="#2a2a2a" stroke="#2a2a2a" stroke-width="0.12">50nM ATC, 0nM GSK</text><text transform="translate(465.30 251.30) rotate(-45)" font-size="6.3" text-anchor="end" fill="#2a2a2a" stroke="#2a2a2a" stroke-width="0.12">50nM ATC, 30nM GSK</text><text transform="translate(478.80 251.30) rotate(-45)" font-size="6.3" text-anchor="end" fill="#2a2a2a" stroke="#2a2a2a" stroke-width="0.12">50nM ATC, 60nM GSK</text><text transform="translate(450.00 307.30) rotate(0.03) scale(0.72 1)" font-size="8.2" text-anchor="middle" fill="#262626" stroke="#262626" stroke-width="0.25">Treatment group</text></g>
<g><text transform="translate(208.00 332.00) rotate(0.03)" font-size="8.3" text-anchor="middle" fill="#2e2e2e">C&gt;T Mutations at</text><text transform="translate(208.00 341.90) rotate(0.03)" font-size="8.3" text-anchor="middle" fill="#2e2e2e">non-CpG Sites</text><rect x="176.55" y="395.45" width="8.30" height="30.05" fill="#7aa4ca" stroke="#5088bd" stroke-width="0.5"/><rect x="189.85" y="389.65" width="8.30" height="35.85" fill="#f9c781" stroke="#f4ae4c" stroke-width="0.5"/><rect x="203.55" y="388.95" width="8.30" height="36.55" fill="#e67c8e" stroke="#dc5f76" stroke-width="0.5"/><rect x="216.95" y="391.35" width="8.30" height="34.15" fill="#9dd7a3" stroke="#7fcb88" stroke-width="0.5"/><rect x="230.25" y="392.05" width="8.30" height="33.45" fill="#a88cc3" stroke="#9170b4" stroke-width="0.5"/><path d="M171.50 351.20V425.50M170.95 425.50H244.60" fill="none" stroke="#222" stroke-width="1.1"/><path d="M168.00 425.50H171.50" stroke="#222" stroke-width="0.9"/><text transform="translate(166.00 427.75) rotate(0.03)" font-size="6.4" text-anchor="end" fill="#2a2a2a" stroke="#2a2a2a" stroke-width="0.12">0</text><path d="M168.00 401.40H171.50" stroke="#222" stroke-width="0.9"/><text transform="translate(166.00 403.65) rotate(0.03)" font-size="6.4" text-anchor="end" fill="#2a2a2a" stroke="#2a2a2a" stroke-width="0.12">5</text><path d="M168.00 377.40H171.50" stroke="#222" stroke-width="0.9"/><text transform="translate(166.00 379.65) rotate(0.03)" font-size="6.4" text-anchor="end" fill="#2a2a2a" stroke="#2a2a2a" stroke-width="0.12">10</text><path d="M168.00 353.60H171.50" stroke="#222" stroke-width="0.9"/><text transform="translate(166.00 355.85) rotate(0.03)" font-size="6.4" text-anchor="end" fill="#2a2a2a" stroke="#2a2a2a" stroke-width="0.12">15</text><path d="M180.70 425.50v3.4" stroke="#222" stroke-width="0.9"/><path d="M194.00 425.50v3.4" stroke="#222" stroke-width="0.9"/><path d="M207.70 425.50v3.4" stroke="#222" stroke-width="0.9"/><path d="M221.10 425.50v3.4" stroke="#222" stroke-width="0.9"/><path d="M234.40 425.50v3.4" stroke="#222" stroke-width="0.9"/><path d="M180.70 387.00V402.20M178.50 387.00h4.4M178.50 402.20h4.4" stroke="#164a82" stroke-width="0.7" fill="none"/><circle cx="180.70" cy="387.40" r="1.30" fill="#164a82"/><circle cx="180.70" cy="397.00" r="1.30" fill="#164a82"/><circle cx="180.70" cy="401.50" r="1.30" fill="#164a82"/><path d="M194.00 373.40V406.60M191.80 373.40h4.4M191.80 406.60h4.4" stroke="#f39a1a" stroke-width="0.7" fill="none"/><circle cx="194.00" cy="377.30" r="1.30" fill="#f39a1a"/><circle cx="194.00" cy="382.50" r="1.30" fill="#f39a1a"/><circle cx="194.00" cy="405.00" r="1.30" fill="#f39a1a"/><path d="M207.70 379.50V397.00M205.50 379.50h4.4M205.50 397.00h4.4" stroke="#c5123a" stroke-width="0.7" fill="none"/><rect x="203.20" y="381.30" width="2.60" height="2.60" fill="#c5123a"/><rect x="208.40" y="383.40" width="2.60" height="2.60" fill="#c5123a"/><rect x="206.40" y="399.90" width="2.60" height="2.60" fill="#c5123a"/><path d="M221.10 373.40V407.00M218.90 373.40h4.4M218.90 407.00h4.4" stroke="#4fb35a" stroke-width="0.7" fill="none"/><path d="M219.60 374.80L222.59 374.80L221.10 372.07Z" fill="#4fb35a"/><path d="M219.60 394.00L222.59 394.00L221.10 391.27Z" fill="#4fb35a"/><path d="M219.60 408.30L222.59 408.30L221.10 405.57Z" fill="#4fb35a"/><path d="M234.40 382.50V401.50M232.20 382.50h4.4M232.20 401.50h4.4" stroke="#4a2380" stroke-width="0.7" fill="none"/><path d="M232.91 381.30L235.90 381.30L234.40 384.03Z" fill="#4a2380"/><path d="M232.91 391.40L235.90 391.40L234.40 394.13Z" fill="#4a2380"/><path d="M232.91 400.30L235.90 400.30L234.40 403.03Z" fill="#4a2380"/><text transform="translate(154.30 388.45) rotate(-90) scale(0.72 1)" font-size="8.2" text-anchor="middle" fill="#262626" stroke="#262626" stroke-width="0.25">C&gt;T Mutation count</text><text transform="translate(183.60 433.30) rotate(-45)" font-size="6.3" text-anchor="end" fill="#2a2a2a" stroke="#2a2a2a" stroke-width="0.12">0nM ATC, 0nM GSK</text><text transform="translate(196.90 433.30) rotate(-45)" font-size="6.3" text-anchor="end" fill="#2a2a2a" stroke="#2a2a2a" stroke-width="0.12">0nM ATC, 60nM GSK</text><text transform="translate(210.60 433.30) rotate(-45)" font-size="6.3" text-anchor="end" fill="#2a2a2a" stroke="#2a2a2a" stroke-width="0.12">50nM ATC, 0nM GSK</text><text transform="translate(224.00 433.30) rotate(-45)" font-size="6.3" text-anchor="end" fill="#2a2a2a" stroke="#2a2a2a" stroke-width="0.12">50nM ATC, 30nM GSK</text><text transform="translate(237.30 433.30) rotate(-45)" font-size="6.3" text-anchor="end" fill="#2a2a2a" stroke="#2a2a2a" stroke-width="0.12">50nM ATC, 60nM GSK</text><text transform="translate(208.65 489.30) rotate(0.03) scale(0.72 1)" font-size="8.2" text-anchor="middle" fill="#262626" stroke="#262626" stroke-width="0.25">Treatment group</text></g>
<g><text transform="translate(329.50 332.00) rotate(0.03)" font-size="8.3" text-anchor="middle" fill="#2e2e2e">C&gt;A Mutations at</text><text transform="translate(329.50 341.90) rotate(0.03)" font-size="8.3" text-anchor="middle" fill="#2e2e2e">CpG Sites</text><rect x="298.85" y="425.15" width="8.30" height="0.35" fill="#7aa4ca" stroke="#5088bd" stroke-width="0.5"/><rect x="325.55" y="393.05" width="8.30" height="32.45" fill="#e67c8e" stroke="#dc5f76" stroke-width="0.5"/><rect x="338.75" y="408.25" width="8.30" height="17.25" fill="#9dd7a3" stroke="#7fcb88" stroke-width="0.5"/><rect x="352.05" y="412.25" width="8.30" height="13.25" fill="#a88cc3" stroke="#9170b4" stroke-width="0.5"/><path d="M294.50 353.60V425.50M293.95 425.50H365.00" fill="none" stroke="#222" stroke-width="1.1"/><path d="M291.00 425.50H294.50" stroke="#222" stroke-width="0.9"/><text transform="translate(289.00 427.75) rotate(0.03)" font-size="6.4" text-anchor="end" fill="#2a2a2a" stroke="#2a2a2a" stroke-width="0.12">0</text><path d="M291.00 411.60H294.50" stroke="#222" stroke-width="0.9"/><text transform="translate(289.00 413.85) rotate(0.03)" font-size="6.4" text-anchor="end" fill="#2a2a2a" stroke="#2a2a2a" stroke-width="0.12">10</text><path d="M291.00 397.70H294.50" stroke="#222" stroke-width="0.9"/><text transform="translate(289.00 399.95) rotate(0.03)" font-size="6.4" text-anchor="end" fill="#2a2a2a" stroke="#2a2a2a" stroke-width="0.12">20</text><path d="M291.00 383.90H294.50" stroke="#222" stroke-width="0.9"/><text transform="translate(289.00 386.15) rotate(0.03)" font-size="6.4" text-anchor="end" fill="#2a2a2a" stroke="#2a2a2a" stroke-width="0.12">30</text><path d="M291.00 370.10H294.50" stroke="#222" stroke-width="0.9"/><text transform="translate(289.00 372.35) rotate(0.03)" font-size="6.4" text-anchor="end" fill="#2a2a2a" stroke="#2a2a2a" stroke-width="0.12">40</text><path d="M291.00 356.10H294.50" stroke="#222" stroke-width="0.9"/><text transform="translate(289.00 358.35) rotate(0.03)" font-size="6.4" text-anchor="end" fill="#2a2a2a" stroke="#2a2a2a" stroke-width="0.12">50</text><path d="M303.00 425.50v3.4" stroke="#222" stroke-width="0.9"/><path d="M316.20 425.50v3.4" stroke="#222" stroke-width="0.9"/><path d="M329.70 425.50v3.4" stroke="#222" stroke-width="0.9"/><path d="M342.90 425.50v3.4" stroke="#222" stroke-width="0.9"/><path d="M356.20 425.50v3.4" stroke="#222" stroke-width="0.9"/><circle cx="300.80" cy="425.20" r="1.30" fill="#164a82"/><circle cx="303.00" cy="424.00" r="1.30" fill="#164a82"/><circle cx="305.20" cy="425.20" r="1.30" fill="#164a82"/><circle cx="313.80" cy="425.30" r="1.30" fill="#f39a1a"/><circle cx="316.20" cy="425.30" r="1.30" fill="#f39a1a"/><circle cx="318.60" cy="425.30" r="1.30" fill="#f39a1a"/><path d="M329.70 377.10V408.00M327.50 377.10h4.4M327.50 408.00h4.4" stroke="#c5123a" stroke-width="0.7" fill="none"/><rect x="328.80" y="368.70" width="2.60" height="2.60" fill="#c5123a"/><rect x="325.60" y="397.20" width="2.60" height="2.60" fill="#c5123a"/><rect x="331.20" y="396.50" width="2.60" height="2.60" fill="#c5123a"/><rect x="328.40" y="402.30" width="2.60" height="2.60" fill="#c5123a"/><path d="M342.90 400.70V415.90M340.70 400.70h4.4M340.70 415.90h4.4" stroke="#4fb35a" stroke-width="0.7" fill="none"/><path d="M341.40 402.30L344.39 402.30L342.90 399.57Z" fill="#4fb35a"/><path d="M341.40 409.80L344.39 409.80L342.90 407.07Z" fill="#4fb35a"/><path d="M356.20 403.10V421.20M354.00 403.10h4.4M354.00 421.20h4.4" stroke="#4a2380" stroke-width="0.7" fill="none"/><path d="M354.70 402.20L357.69 402.20L356.20 404.93Z" fill="#4a2380"/><path d="M354.70 411.20L357.69 411.20L356.20 413.93Z" fill="#4a2380"/><path d="M329.00 356.70V353.70H354.30V356.70" fill="none" stroke="#333" stroke-width="0.7"/><text transform="translate(341.65 354.10) rotate(0.03)" font-size="7.4" text-anchor="middle" fill="#2a2a2a" stroke="#2a2a2a" stroke-width="0.2">*</text><path d="M329.00 366.40V363.40H341.00V366.40" fill="none" stroke="#333" stroke-width="0.7"/><text transform="translate(335.00 361.60) rotate(0.03)" font-size="5.9" text-anchor="middle" fill="#2a2a2a" stroke="#2a2a2a" stroke-width="0.12">ns</text><text transform="translate(277.90 389.65) rotate(-90) scale(0.72 1)" font-size="8.2" text-anchor="middle" fill="#262626" stroke="#262626" stroke-width="0.25">C&gt;A Mutation count</text><text transform="translate(305.90 433.30) rotate(-45)" font-size="6.3" text-anchor="end" fill="#2a2a2a" stroke="#2a2a2a" stroke-width="0.12">0nM ATC, 0nM GSK</text><text transform="translate(319.10 433.30) rotate(-45)" font-size="6.3" text-anchor="end" fill="#2a2a2a" stroke="#2a2a2a" stroke-width="0.12">0nM ATC, 60nM GSK</text><text transform="translate(332.60 433.30) rotate(-45)" font-size="6.3" text-anchor="end" fill="#2a2a2a" stroke="#2a2a2a" stroke-width="0.12">50nM ATC, 0nM GSK</text><text transform="translate(345.80 433.30) rotate(-45)" font-size="6.3" text-anchor="end" fill="#2a2a2a" stroke="#2a2a2a" stroke-width="0.12">50nM ATC, 30nM GSK</text><text transform="translate(359.10 433.30) rotate(-45)" font-size="6.3" text-anchor="end" fill="#2a2a2a" stroke="#2a2a2a" stroke-width="0.12">50nM ATC, 60nM GSK</text><text transform="translate(330.70 489.30) rotate(0.03) scale(0.72 1)" font-size="8.2" text-anchor="middle" fill="#262626" stroke="#262626" stroke-width="0.25">Treatment group</text></g>
<g><text transform="translate(449.50 332.00) rotate(0.03)" font-size="8.3" text-anchor="middle" fill="#2e2e2e">C&gt;A Mutations at</text><text transform="translate(449.50 341.90) rotate(0.03)" font-size="8.3" text-anchor="middle" fill="#2e2e2e">non-CpG Sites</text><rect x="417.65" y="416.65" width="8.30" height="8.85" fill="#7aa4ca" stroke="#5088bd" stroke-width="0.5"/><rect x="431.35" y="411.35" width="8.30" height="14.15" fill="#f9c781" stroke="#f4ae4c" stroke-width="0.5"/><rect x="445.05" y="392.05" width="8.30" height="33.45" fill="#e67c8e" stroke="#dc5f76" stroke-width="0.5"/><rect x="458.45" y="399.25" width="8.30" height="26.25" fill="#9dd7a3" stroke="#7fcb88" stroke-width="0.5"/><rect x="471.95" y="387.75" width="8.30" height="37.75" fill="#a88cc3" stroke="#9170b4" stroke-width="0.5"/><path d="M412.80 350.80V425.50M412.25 425.50H486.00" fill="none" stroke="#222" stroke-width="1.1"/><path d="M409.30 425.50H412.80" stroke="#222" stroke-width="0.9"/><text transform="translate(407.30 427.75) rotate(0.03)" font-size="6.4" text-anchor="end" fill="#2a2a2a" stroke="#2a2a2a" stroke-width="0.12">0</text><path d="M409.30 411.00H412.80" stroke="#222" stroke-width="0.9"/><text transform="translate(407.30 413.25) rotate(0.03)" font-size="6.4" text-anchor="end" fill="#2a2a2a" stroke="#2a2a2a" stroke-width="0.12">2</text><path d="M409.30 396.60H412.80" stroke="#222" stroke-width="0.9"/><text transform="translate(407.30 398.85) rotate(0.03)" font-size="6.4" text-anchor="end" fill="#2a2a2a" stroke="#2a2a2a" stroke-width="0.12">4</text><path d="M409.30 382.20H412.80" stroke="#222" stroke-width="0.9"/><text transform="translate(407.30 384.45) rotate(0.03)" font-size="6.4" text-anchor="end" fill="#2a2a2a" stroke="#2a2a2a" stroke-width="0.12">6</text><path d="M409.30 367.70H412.80" stroke="#222" stroke-width="0.9"/><text transform="translate(407.30 369.95) rotate(0.03)" font-size="6.4" text-anchor="end" fill="#2a2a2a" stroke="#2a2a2a" stroke-width="0.12">8</text><path d="M409.30 353.30H412.80" stroke="#222" stroke-width="0.9"/><text transform="translate(407.30 355.55) rotate(0.03)" font-size="6.4" text-anchor="end" fill="#2a2a2a" stroke="#2a2a2a" stroke-width="0.12">10</text><path d="M421.80 425.50v3.4" stroke="#222" stroke-width="0.9"/><path d="M435.50 425.50v3.4" stroke="#222" stroke-width="0.9"/><path d="M449.20 425.50v3.4" stroke="#222" stroke-width="0.9"/><path d="M462.60 425.50v3.4" stroke="#222" stroke-width="0.9"/><path d="M476.10 425.50v3.4" stroke="#222" stroke-width="0.9"/><path d="M421.80 411.10V420.40M419.60 411.10h4.4M419.60 420.40h4.4" stroke="#164a82" stroke-width="0.7" fill="none"/><circle cx="421.80" cy="411.00" r="1.30" fill="#164a82"/><circle cx="418.90" cy="417.80" r="1.30" fill="#164a82"/><circle cx="424.70" cy="417.80" r="1.30" fill="#164a82"/><path d="M435.50 403.90V418.30M433.30 403.90h4.4M433.30 418.30h4.4" stroke="#f39a1a" stroke-width="0.7" fill="none"/><circle cx="435.50" cy="403.80" r="1.30" fill="#f39a1a"/><circle cx="435.50" cy="411.70" r="1.30" fill="#f39a1a"/><circle cx="435.50" cy="418.20" r="1.30" fill="#f39a1a"/><path d="M449.20 382.50V400.30M447.00 382.50h4.4M447.00 400.30h4.4" stroke="#c5123a" stroke-width="0.7" fill="none"/><rect x="444.50" y="384.40" width="2.60" height="2.60" fill="#c5123a"/><rect x="451.30" y="384.40" width="2.60" height="2.60" fill="#c5123a"/><rect x="447.90" y="387.70" width="2.60" height="2.60" fill="#c5123a"/><rect x="447.90" y="402.80" width="2.60" height="2.60" fill="#c5123a"/><path d="M462.60 381.00V418.30M460.40 381.00h4.4M460.40 418.30h4.4" stroke="#4fb35a" stroke-width="0.7" fill="none"/><path d="M461.11 383.30L464.10 383.30L462.60 380.57Z" fill="#4fb35a"/><path d="M461.11 398.10L464.10 398.10L462.60 395.37Z" fill="#4fb35a"/><path d="M461.11 419.30L464.10 419.30L462.60 416.57Z" fill="#4fb35a"/><path d="M476.10 368.20V404.60M473.90 368.20h4.4M473.90 404.60h4.4" stroke="#4a2380" stroke-width="0.7" fill="none"/><path d="M474.61 366.70L477.60 366.70L476.10 369.43Z" fill="#4a2380"/><path d="M474.61 388.20L477.60 388.20L476.10 390.93Z" fill="#4a2380"/><path d="M474.61 402.90L477.60 402.90L476.10 405.63Z" fill="#4a2380"/><text transform="translate(396.10 388.25) rotate(-90) scale(0.72 1)" font-size="8.2" text-anchor="middle" fill="#262626" stroke="#262626" stroke-width="0.25">C&gt;A Mutation count</text><text transform="translate(425.00 433.30) rotate(-45)" font-size="6.3" text-anchor="end" fill="#2a2a2a" stroke="#2a2a2a" stroke-width="0.12">0nM ATC, 0nM GSK</text><text transform="translate(438.70 433.30) rotate(-45)" font-size="6.3" text-anchor="end" fill="#2a2a2a" stroke="#2a2a2a" stroke-width="0.12">0nM ATC, 60nM GSK</text><text transform="translate(452.40 433.30) rotate(-45)" font-size="6.3" text-anchor="end" fill="#2a2a2a" stroke="#2a2a2a" stroke-width="0.12">50nM ATC, 0nM GSK</text><text transform="translate(465.80 433.30) rotate(-45)" font-size="6.3" text-anchor="end" fill="#2a2a2a" stroke="#2a2a2a" stroke-width="0.12">50nM ATC, 30nM GSK</text><text transform="translate(479.30 433.30) rotate(-45)" font-size="6.3" text-anchor="end" fill="#2a2a2a" stroke="#2a2a2a" stroke-width="0.12">50nM ATC, 60nM GSK</text><text transform="translate(450.05 489.30) rotate(0.03) scale(0.72 1)" font-size="8.2" text-anchor="middle" fill="#262626" stroke="#262626" stroke-width="0.25">Treatment group</text></g>
<rect x="0.5" y="0.5" width="519" height="497" fill="none" stroke="#2a2a2a" stroke-width="1.05"/>
</svg></body></html>
